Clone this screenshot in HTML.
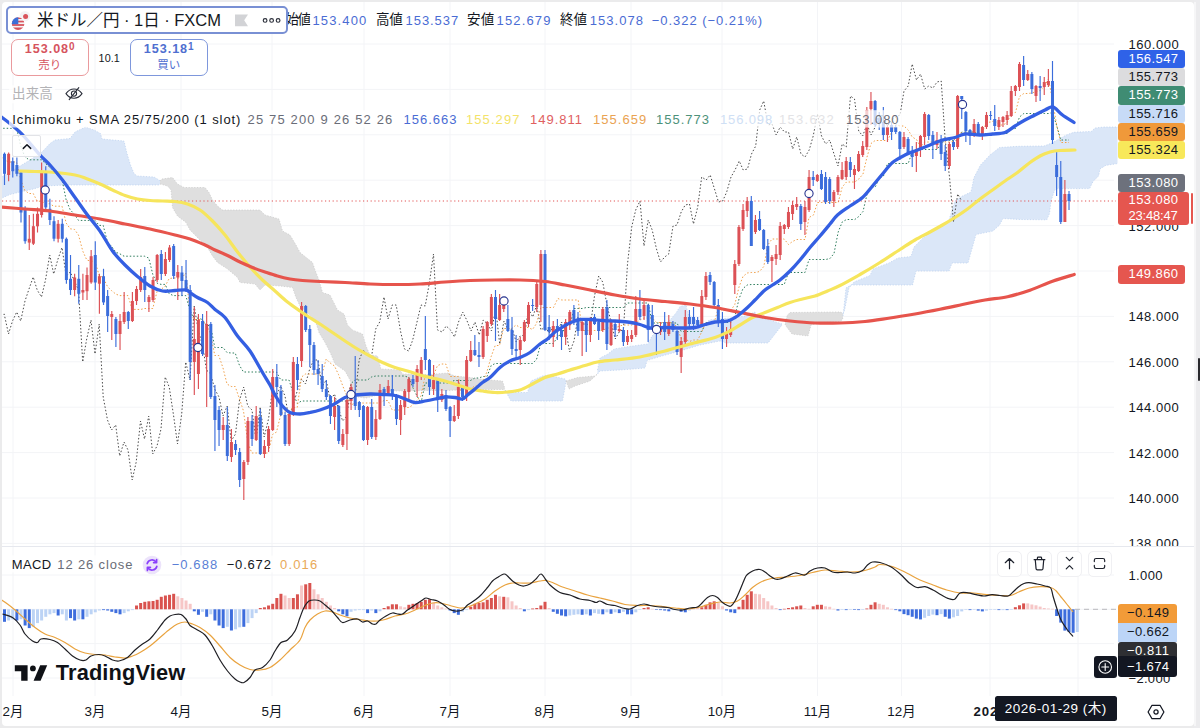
<!DOCTYPE html>
<html lang="ja"><head><meta charset="utf-8"><title>USDJPY chart</title><style>
html,body{margin:0;padding:0}
body{width:1200px;height:728px;overflow:hidden;background:#ebebec;font-family:"Liberation Sans","Noto Sans CJK JP",sans-serif;position:relative}
.panel{position:absolute;left:2px;top:2px;width:1192px;height:724px;background:#fff;border-radius:4px}
.rstrip{position:absolute;left:1194px;top:0;width:6px;height:728px;background:#ececee}
.rstrip2{position:absolute;left:1194px;top:2px;width:1.5px;height:724px;background:#f6f6f7}
.handle{position:absolute;left:1198.2px;top:357.5px;width:2px;height:23px;background:#2a2a2e;border-radius:1px}
svg.chart{position:absolute;left:0;top:0}
.t{position:absolute;white-space:nowrap;line-height:1;transform:translateY(-50%)}
.t.c{transform:translate(-50%,-50%)}
.pl{position:absolute;box-sizing:border-box;padding-left:10.2px;white-space:nowrap;overflow:hidden}
.sep{position:absolute;left:2px;top:546px;width:1192px;height:1px;background:#e6e8ee}
.symbox{position:absolute;left:6px;top:6.2px;width:282px;height:28.3px;border:2px solid #7990d4;border-radius:5px;background:#fff;box-sizing:border-box}
.btn{position:absolute;top:39px;height:36.5px;box-sizing:border-box;border-radius:7px;background:#fff;text-align:center}
.btn .p{position:absolute;left:0;right:0;top:3.2px;font-size:12.6px;font-weight:700;line-height:13px;letter-spacing:0.95px}
.btn .p sup{font-size:10px;line-height:0;vertical-align:3.2px;font-weight:700;letter-spacing:0}
.btn .l{position:absolute;left:0;right:0;top:18.6px;font-size:11.5px;line-height:12px}
.sell{left:11px;width:77.5px;border:1.7px solid #ea9a9d;color:#d6545e}
.buy{left:130px;width:77.5px;border:1.7px solid #7e97dc;color:#4f6fd0}
.collapse{position:absolute;left:11.5px;top:135px;width:29.5px;height:21.5px;box-sizing:border-box;border:1px solid #e2e3e7;border-radius:2px;background:rgba(255,255,255,0.82)}
.pbtn{position:absolute;top:551px;width:24.5px;height:25.5px;box-sizing:border-box;border:1px solid #f0f0f3;border-radius:5px;background:#fff}
.datelab{position:absolute;left:995px;top:695.7px;width:121.5px;height:25.7px;background:#131722;border-radius:2.5px;color:#fff;font-size:13.5px;line-height:26px;text-align:center;white-space:nowrap}
.plus{position:absolute;left:1094.4px;top:655.7px;width:22.4px;height:22.3px;background:#131722;border-radius:3px}
</style></head>
<body>
<div class="panel"></div>
<div class="rstrip"></div><div class="rstrip2"></div><div class="handle"></div>
<svg class="chart" width="1200" height="728" viewBox="0 0 1200 728">
<defs><clipPath id="mainclip"><rect x="2" y="2" width="1115.5" height="544"/></clipPath><clipPath id="macdclip"><rect x="2" y="547" width="1114" height="147"/></clipPath></defs>
<line x1="2" x2="1114" y1="44.0" y2="44.0" stroke="#f3f4f7" stroke-width="1"/>
<line x1="2" x2="1114" y1="89.4" y2="89.4" stroke="#f3f4f7" stroke-width="1"/>
<line x1="2" x2="1114" y1="134.8" y2="134.8" stroke="#f3f4f7" stroke-width="1"/>
<line x1="2" x2="1114" y1="180.2" y2="180.2" stroke="#f3f4f7" stroke-width="1"/>
<line x1="2" x2="1114" y1="225.6" y2="225.6" stroke="#f3f4f7" stroke-width="1"/>
<line x1="2" x2="1114" y1="271.0" y2="271.0" stroke="#f3f4f7" stroke-width="1"/>
<line x1="2" x2="1114" y1="316.4" y2="316.4" stroke="#f3f4f7" stroke-width="1"/>
<line x1="2" x2="1114" y1="361.8" y2="361.8" stroke="#f3f4f7" stroke-width="1"/>
<line x1="2" x2="1114" y1="407.2" y2="407.2" stroke="#f3f4f7" stroke-width="1"/>
<line x1="2" x2="1114" y1="452.6" y2="452.6" stroke="#f3f4f7" stroke-width="1"/>
<line x1="2" x2="1114" y1="498.0" y2="498.0" stroke="#f3f4f7" stroke-width="1"/>
<line x1="2" x2="1114" y1="543.4" y2="543.4" stroke="#f3f4f7" stroke-width="1"/>
<line x1="13" x2="13" y1="2" y2="696" stroke="#f3f4f7" stroke-width="1"/>
<line x1="95" x2="95" y1="2" y2="696" stroke="#f3f4f7" stroke-width="1"/>
<line x1="181" x2="181" y1="2" y2="696" stroke="#f3f4f7" stroke-width="1"/>
<line x1="272" x2="272" y1="2" y2="696" stroke="#f3f4f7" stroke-width="1"/>
<line x1="364" x2="364" y1="2" y2="696" stroke="#f3f4f7" stroke-width="1"/>
<line x1="450" x2="450" y1="2" y2="696" stroke="#f3f4f7" stroke-width="1"/>
<line x1="545" x2="545" y1="2" y2="696" stroke="#f3f4f7" stroke-width="1"/>
<line x1="631" x2="631" y1="2" y2="696" stroke="#f3f4f7" stroke-width="1"/>
<line x1="722" x2="722" y1="2" y2="696" stroke="#f3f4f7" stroke-width="1"/>
<line x1="817.5" x2="817.5" y1="2" y2="696" stroke="#f3f4f7" stroke-width="1"/>
<line x1="901.5" x2="901.5" y1="2" y2="696" stroke="#f3f4f7" stroke-width="1"/>
<line x1="990" x2="990" y1="2" y2="696" stroke="#f3f4f7" stroke-width="1"/>
<line x1="1078" x2="1078" y1="2" y2="696" stroke="#f3f4f7" stroke-width="1"/>
<line x1="2" x2="1114" y1="575" y2="575" stroke="#f3f4f7" stroke-width="1"/>
<line x1="2" x2="1114" y1="609.3" y2="609.3" stroke="#f3f4f7" stroke-width="1"/>
<line x1="2" x2="1114" y1="643.6" y2="643.6" stroke="#f3f4f7" stroke-width="1"/>
<line x1="2" x2="1114" y1="678" y2="678" stroke="#f3f4f7" stroke-width="1"/>
<g clip-path="url(#mainclip)">
<path d="M0.0,178.0 L10.0,172.0 L20.0,166.0 L30.0,160.0 L42.0,152.0 L50.0,143.5 L55.0,140.0 L70.0,138.5 L75.0,132.0 L85.5,127.0 L94.0,130.0 L100.5,133.5 L102.0,139.0 L124.0,141.0 L127.0,153.5 L130.5,165.0 L134.0,173.5 L137.0,176.0 L154.0,177.0 L159.0,180.0 L160.0,181.0 L160.0,184.0 L159.0,185.0 L67.0,185.0 L43.5,186.0 L33.5,189.0 L20.0,192.0 L10.0,194.5 L0.0,199.0Z" fill="#dbe7f8" stroke="none"/>
<path d="M0.0,178.0 L10.0,172.0 L20.0,166.0 L30.0,160.0 L42.0,152.0 L50.0,143.5 L55.0,140.0 L70.0,138.5 L75.0,132.0 L85.5,127.0 L94.0,130.0 L100.5,133.5 L102.0,139.0 L124.0,141.0 L127.0,153.5 L130.5,165.0 L134.0,173.5 L137.0,176.0 L154.0,177.0 L159.0,180.0 L160.0,181.0" fill="none" stroke="#b9cfee" stroke-width="0.8" stroke-dasharray="1.2,1.6" opacity="0.9"/>
<path d="M0.0,199.0 L10.0,194.5 L20.0,192.0 L33.5,189.0 L43.5,186.0 L67.0,185.0 L159.0,185.0 L160.0,184.0" fill="none" stroke="#b9cfee" stroke-width="0.8" stroke-dasharray="1.2,1.6" opacity="0.9"/>
<path d="M160.0,181.0 L162.0,179.0 L172.5,177.5 L177.5,184.0 L184.0,187.5 L205.0,187.5 L209.0,192.5 L212.5,200.0 L217.5,206.0 L222.5,210.0 L260.0,210.0 L265.0,215.0 L279.0,219.0 L282.5,231.0 L290.0,235.0 L296.0,245.0 L300.0,252.5 L312.5,262.5 L315.0,270.0 L319.0,280.0 L322.5,292.5 L330.0,295.0 L337.5,310.0 L344.0,314.0 L347.5,325.0 L352.5,330.0 L362.5,334.0 L366.0,346.0 L370.0,355.0 L377.5,356.0 L381.0,369.0 L400.0,370.0 L402.5,374.0 L430.0,374.5 L447.5,373.0 L455.0,376.0 L470.0,377.5 L480.0,379.0 L490.0,380.0 L502.5,381.0 L505.0,389.0 L505.0,389.5 L490.0,389.5 L470.0,389.5 L460.0,390.0 L445.0,390.5 L430.0,390.5 L390.0,391.0 L382.0,393.0 L374.0,396.0 L366.0,398.0 L358.0,397.0 L352.5,393.0 L350.0,380.0 L345.0,371.0 L335.0,364.0 L330.0,352.0 L325.0,342.5 L319.0,332.5 L315.0,320.0 L300.0,306.0 L296.0,297.5 L292.5,287.5 L280.0,286.0 L265.0,285.0 L260.0,290.0 L255.0,284.0 L240.0,282.5 L237.5,277.5 L227.5,269.0 L217.5,262.5 L212.5,256.0 L207.5,247.5 L202.5,242.5 L190.0,230.0 L186.0,222.5 L177.5,216.0 L172.5,207.5 L171.0,190.0 L167.5,186.0 L160.0,184.0Z" fill="#dfdfdf" stroke="none"/>
<path d="M160.0,181.0 L162.0,179.0 L172.5,177.5 L177.5,184.0 L184.0,187.5 L205.0,187.5 L209.0,192.5 L212.5,200.0 L217.5,206.0 L222.5,210.0 L260.0,210.0 L265.0,215.0 L279.0,219.0 L282.5,231.0 L290.0,235.0 L296.0,245.0 L300.0,252.5 L312.5,262.5 L315.0,270.0 L319.0,280.0 L322.5,292.5 L330.0,295.0 L337.5,310.0 L344.0,314.0 L347.5,325.0 L352.5,330.0 L362.5,334.0 L366.0,346.0 L370.0,355.0 L377.5,356.0 L381.0,369.0 L400.0,370.0 L402.5,374.0 L430.0,374.5 L447.5,373.0 L455.0,376.0 L470.0,377.5 L480.0,379.0 L490.0,380.0 L502.5,381.0 L505.0,389.0" fill="none" stroke="#c9c9c9" stroke-width="0.8" stroke-dasharray="1.2,1.6" opacity="0.9"/>
<path d="M160.0,184.0 L167.5,186.0 L171.0,190.0 L172.5,207.5 L177.5,216.0 L186.0,222.5 L190.0,230.0 L202.5,242.5 L207.5,247.5 L212.5,256.0 L217.5,262.5 L227.5,269.0 L237.5,277.5 L240.0,282.5 L255.0,284.0 L260.0,290.0 L265.0,285.0 L280.0,286.0 L292.5,287.5 L296.0,297.5 L300.0,306.0 L315.0,320.0 L319.0,332.5 L325.0,342.5 L330.0,352.0 L335.0,364.0 L345.0,371.0 L350.0,380.0 L352.5,393.0 L358.0,397.0 L366.0,398.0 L374.0,396.0 L382.0,393.0 L390.0,391.0 L430.0,390.5 L445.0,390.5 L460.0,390.0 L470.0,389.5 L490.0,389.5 L505.0,389.5" fill="none" stroke="#c9c9c9" stroke-width="0.8" stroke-dasharray="1.2,1.6" opacity="0.9"/>
<path d="M505.0,390.0 L507.5,392.5 L527.5,392.5 L531.0,381.0 L542.5,376.0 L547.5,375.0 L565.0,379.0 L566.0,381.0 L566.0,381.0 L565.0,387.5 L562.5,401.0 L511.0,401.0 L505.0,390.0Z" fill="#dbe7f8" stroke="none"/>
<path d="M505.0,390.0 L507.5,392.5 L527.5,392.5 L531.0,381.0 L542.5,376.0 L547.5,375.0 L565.0,379.0 L566.0,381.0" fill="none" stroke="#b9cfee" stroke-width="0.8" stroke-dasharray="1.2,1.6" opacity="0.9"/>
<path d="M505.0,390.0 L511.0,401.0 L562.5,401.0 L565.0,387.5 L566.0,381.0" fill="none" stroke="#b9cfee" stroke-width="0.8" stroke-dasharray="1.2,1.6" opacity="0.9"/>
<path d="M566.0,381.0 L577.5,377.5 L595.0,376.0 L597.5,374.0 L597.5,374.0 L590.0,381.0 L575.0,386.0 L569.0,389.0 L566.0,381.0Z" fill="#dfdfdf" stroke="none"/>
<path d="M566.0,381.0 L577.5,377.5 L595.0,376.0 L597.5,374.0" fill="none" stroke="#c9c9c9" stroke-width="0.8" stroke-dasharray="1.2,1.6" opacity="0.9"/>
<path d="M566.0,381.0 L569.0,389.0 L575.0,386.0 L590.0,381.0 L597.5,374.0" fill="none" stroke="#c9c9c9" stroke-width="0.8" stroke-dasharray="1.2,1.6" opacity="0.9"/>
<path d="M597.5,370.0 L600.0,358.0 L608.0,354.0 L614.0,349.0 L626.0,347.0 L640.0,345.0 L648.0,344.0 L652.0,336.0 L660.0,328.0 L670.0,320.0 L676.0,313.0 L680.0,306.5 L686.0,305.0 L688.0,314.0 L698.0,321.5 L706.0,324.5 L709.0,320.0 L718.0,319.0 L730.0,318.0 L746.0,316.0 L755.0,312.0 L757.0,317.0 L770.0,320.0 L782.0,324.0 L782.0,325.0 L772.0,338.0 L768.0,343.0 L726.0,343.0 L720.0,341.0 L700.0,345.0 L680.0,351.0 L660.0,356.5 L647.0,360.5 L645.0,368.0 L620.0,370.0 L600.0,371.0 L597.5,374.0Z" fill="#dbe7f8" stroke="none"/>
<path d="M597.5,370.0 L600.0,358.0 L608.0,354.0 L614.0,349.0 L626.0,347.0 L640.0,345.0 L648.0,344.0 L652.0,336.0 L660.0,328.0 L670.0,320.0 L676.0,313.0 L680.0,306.5 L686.0,305.0 L688.0,314.0 L698.0,321.5 L706.0,324.5 L709.0,320.0 L718.0,319.0 L730.0,318.0 L746.0,316.0 L755.0,312.0 L757.0,317.0 L770.0,320.0 L782.0,324.0" fill="none" stroke="#b9cfee" stroke-width="0.8" stroke-dasharray="1.2,1.6" opacity="0.9"/>
<path d="M597.5,374.0 L600.0,371.0 L620.0,370.0 L645.0,368.0 L647.0,360.5 L660.0,356.5 L680.0,351.0 L700.0,345.0 L720.0,341.0 L726.0,343.0 L768.0,343.0 L772.0,338.0 L782.0,325.0" fill="none" stroke="#b9cfee" stroke-width="0.8" stroke-dasharray="1.2,1.6" opacity="0.9"/>
<path d="M785.0,322.0 L787.5,315.0 L790.0,312.5 L841.0,312.0 L843.0,314.0 L843.0,318.0 L841.0,321.5 L822.0,322.5 L811.0,325.0 L808.0,336.0 L792.0,334.0 L786.0,326.0 L785.0,324.0Z" fill="#dfdfdf" stroke="none"/>
<path d="M785.0,322.0 L787.5,315.0 L790.0,312.5 L841.0,312.0 L843.0,314.0" fill="none" stroke="#c9c9c9" stroke-width="0.8" stroke-dasharray="1.2,1.6" opacity="0.9"/>
<path d="M785.0,324.0 L786.0,326.0 L792.0,334.0 L808.0,336.0 L811.0,325.0 L822.0,322.5 L841.0,321.5 L843.0,318.0" fill="none" stroke="#c9c9c9" stroke-width="0.8" stroke-dasharray="1.2,1.6" opacity="0.9"/>
<path d="M843.0,314.0 L844.5,310.5 L849.0,288.0 L854.0,282.0 L870.0,275.5 L873.0,269.0 L889.0,263.0 L898.0,258.0 L911.0,256.5 L914.0,247.0 L923.5,237.5 L942.5,225.0 L949.0,220.0 L955.0,201.0 L961.5,196.5 L971.0,192.0 L974.0,177.5 L980.5,165.0 L990.0,155.0 L999.5,147.5 L1018.5,146.3 L1044.0,146.0 L1052.0,143.0 L1059.0,139.0 L1066.4,135.0 L1073.6,132.3 L1091.4,131.4 L1095.0,128.0 L1104.0,127.0 L1118.0,127.0 L1118.0,163.5 L1105.7,165.4 L1100.0,169.0 L1098.6,176.0 L1093.0,181.4 L1089.6,188.6 L1055.7,188.6 L1054.0,192.0 L1051.0,201.0 L1049.5,213.6 L1046.8,219.8 L1020.0,219.5 L1003.0,218.5 L999.5,225.0 L993.0,231.0 L976.0,234.5 L968.0,263.0 L952.0,263.0 L949.0,271.0 L916.0,271.0 L912.5,285.0 L851.0,285.0 L846.0,288.0 L843.0,316.0Z" fill="#dbe7f8" stroke="none"/>
<path d="M843.0,314.0 L844.5,310.5 L849.0,288.0 L854.0,282.0 L870.0,275.5 L873.0,269.0 L889.0,263.0 L898.0,258.0 L911.0,256.5 L914.0,247.0 L923.5,237.5 L942.5,225.0 L949.0,220.0 L955.0,201.0 L961.5,196.5 L971.0,192.0 L974.0,177.5 L980.5,165.0 L990.0,155.0 L999.5,147.5 L1018.5,146.3 L1044.0,146.0 L1052.0,143.0 L1059.0,139.0 L1066.4,135.0 L1073.6,132.3 L1091.4,131.4 L1095.0,128.0 L1104.0,127.0 L1118.0,127.0" fill="none" stroke="#b9cfee" stroke-width="0.8" stroke-dasharray="1.2,1.6" opacity="0.9"/>
<path d="M843.0,316.0 L846.0,288.0 L851.0,285.0 L912.5,285.0 L916.0,271.0 L949.0,271.0 L952.0,263.0 L968.0,263.0 L976.0,234.5 L993.0,231.0 L999.5,225.0 L1003.0,218.5 L1020.0,219.5 L1046.8,219.8 L1049.5,213.6 L1051.0,201.0 L1054.0,192.0 L1055.7,188.6 L1089.6,188.6 L1093.0,181.4 L1098.6,176.0 L1100.0,169.0 L1105.7,165.4 L1118.0,163.5" fill="none" stroke="#b9cfee" stroke-width="0.8" stroke-dasharray="1.2,1.6" opacity="0.9"/>
<path d="M-102.8,173.8 L-98.8,153.8 L-94.8,171.2 L-90.8,173.8 L-86.5,212.5 L-82.5,241.2 L-78.3,238.8 L-74.0,226.2 L-70.0,213.8 L-65.8,171.2 L-61.8,207.5 L-57.5,220.0 L-53.5,238.8 L-49.3,223.8 L-45.3,238.8 L-41.0,280.0 L-37.0,290.0 L-32.8,277.5 L-28.8,293.8 L-24.5,290.0 L-20.5,275.0 L-16.3,256.2 L-12.3,282.5 L-8.0,276.2 L-4.0,302.5 L0.2,316.0 L4.2,314.0 L8.5,334.0 L12.5,321.0 L16.7,312.0 L20.7,321.0 L25.0,301.0 L29.0,289.0 L33.2,277.0 L37.2,290.0 L41.5,297.0 L45.5,280.0 L49.7,255.0 L53.7,274.0 L58.0,259.0 L62.0,247.5 L66.2,276.0 L70.2,272.0 L74.5,281.0 L78.5,290.0 L82.7,362.0 L86.7,339.0 L91.0,320.0 L95.0,354.0 L99.2,324.0 L103.2,397.0 L107.5,420.0 L111.5,430.0 L115.7,425.0 L119.7,456.0 L124.0,442.0 L128.0,450.0 L132.2,480.0 L136.2,462.0 L140.5,421.0 L144.5,439.0 L148.7,416.0 L152.7,454.0 L157.0,446.0 L161.0,429.0 L165.2,377.0 L169.2,387.0 L173.5,415.0 L177.5,444.0 L181.7,414.0 L185.7,362.0 L190.0,380.0 L194.2,306.0 L198.2,330.0 L202.5,345.0 L206.5,370.0 L210.7,374.0 L214.7,389.0 L219.0,397.0 L223.0,416.0 L227.2,406.0 L231.2,441.0 L235.5,434.0 L239.5,400.0 L243.7,387.0 L247.7,406.0 L252.0,410.0 L256.0,440.0 L260.2,407.0 L264.2,437.0 L268.5,419.0 L272.5,390.0 L276.7,395.0 L280.7,386.0 L285.0,396.0 L289.0,419.0 L293.2,405.0 L297.2,391.0 L301.5,379.0 L305.5,384.0 L309.7,369.0 L313.7,360.0 L318.0,360.0 L322.0,387.0 L326.2,380.0 L330.2,400.0 L334.5,394.0 L338.5,409.0 L342.7,421.0 L346.7,416.0 L351.0,387.0 L355.0,397.0 L359.2,360.0 L363.2,350.0 L367.5,355.0 L371.5,357.0 L375.7,329.0 L379.7,322.0 L384.0,297.0 L388.0,319.0 L392.2,305.0 L396.2,305.0 L400.5,331.0 L404.5,349.0 L408.7,351.0 L412.7,340.0 L417.0,322.0 L421.0,305.0 L425.2,306.0 L429.2,284.0 L433.5,254.0 L437.5,330.0 L442.2,332.0 L446.2,326.0 L450.5,330.0 L454.5,337.0 L458.5,322.0 L462.7,312.0 L466.7,320.0 L471.0,331.0 L475.0,322.0 L479.2,335.0 L483.2,320.0 L487.5,324.0 L491.5,331.0 L495.7,309.0 L499.7,344.0 L504.0,321.0 L508.0,330.0 L512.2,329.0 L516.2,342.0 L520.2,336.0 L524.5,335.0 L528.5,309.0 L532.7,317.0 L536.7,305.0 L541.0,330.0 L545.0,327.0 L549.2,333.0 L553.2,327.0 L557.5,332.0 L561.5,322.0 L565.7,330.0 L569.7,352.0 L574.0,341.0 L578.0,317.0 L582.2,324.0 L586.2,324.0 L590.5,325.0 L594.5,296.0 L598.7,276.0 L602.7,282.0 L607.0,305.0 L611.0,322.0 L615.2,339.0 L619.2,332.0 L623.5,329.0 L627.5,264.0 L631.7,227.0 L635.7,210.0 L640.0,201.0 L644.0,246.0 L648.2,220.0 L652.2,230.0 L656.5,249.0 L660.5,262.0 L664.7,257.0 L668.7,254.0 L673.0,226.0 L677.0,225.0 L681.2,212.0 L685.2,205.0 L689.5,204.0 L693.5,224.0 L697.7,207.0 L701.7,177.0 L706.2,180.0 L710.2,175.0 L714.5,189.0 L718.5,202.0 L722.7,201.0 L726.7,192.0 L731.0,177.0 L735.0,170.0 L739.2,161.0 L743.2,170.0 L747.5,169.0 L751.5,154.0 L755.7,146.0 L759.7,110.0 L763.7,101.0 L768.0,125.0 L772.0,124.0 L776.2,135.0 L780.2,127.0 L784.5,132.0 L788.5,132.0 L792.7,149.0 L796.7,137.0 L801.0,154.0 L805.0,157.0 L809.2,150.0 L813.2,136.0 L817.5,114.0 L821.5,136.0 L825.7,144.0 L829.7,140.0 L834.0,154.0 L838.0,166.0 L842.2,144.0 L846.2,147.0 L850.5,96.0 L854.5,99.0 L858.7,131.0 L862.7,136.0 L867.0,124.0 L871.0,135.0 L875.2,127.0 L879.2,115.0 L883.5,116.0 L887.5,126.0 L891.7,120.0 L895.7,117.0 L900.0,115.0 L904.0,91.0 L908.2,86.0 L912.2,64.0 L916.5,80.0 L920.5,74.0 L924.7,89.0 L928.7,86.0 L933.0,88.0 L937.0,82.0 L941.2,81.0 L945.2,140.0 L949.5,177.0 L953.5,222.0 L957.7,194.0 L961.7,201.0" fill="none" stroke="#4a4a4a" stroke-width="1" stroke-dasharray="1.5,2" />
<path d="M-3.8,128.3 L0.4,128.3 L4.5,128.3 L8.5,128.3 L12.5,128.3 L16.5,128.3 L20.8,146.1 L24.8,156.7 L29.0,159.8 L33.2,159.8 L37.2,159.8 L41.5,159.8 L45.5,163.5 L49.8,167.4 L53.8,171.4 L58.0,175.4 L62.0,179.3 L66.2,200.2 L70.2,209.8 L74.5,214.4 L78.5,220.4 L82.8,220.4 L86.8,220.4 L91.0,220.4 L95.0,220.4 L99.2,225.4 L103.2,225.4 L107.5,242.2 L111.5,246.2 L115.8,252.2 L119.8,253.8 L124.0,256.2 L128.0,256.2 L132.2,256.2 L136.2,256.2 L140.5,256.2 L144.5,256.2 L148.8,258.1 L152.8,274.4 L157.0,283.1 L161.0,284.4 L165.2,284.4 L169.2,293.8 L173.5,295.6 L177.5,295.6 L181.8,295.6 L185.8,295.6 L190.0,310.6 L194.0,318.1 L198.2,318.1 L202.2,319.5 L206.5,325.5 L210.5,325.5 L214.8,347.5 L218.8,347.5 L223.0,347.5 L227.0,352.5 L231.2,353.0 L235.2,353.0 L239.5,365.5 L243.5,372.0 L247.8,372.0 L251.8,372.0 L256.0,372.0 L260.0,372.0 L264.2,372.0 L268.2,372.0 L272.5,372.0 L276.5,372.0 L280.8,380.0 L284.8,380.0 L289.0,380.0 L293.0,392.5 L297.2,403.5 L301.5,401.0 L305.5,401.0 L309.8,401.0 L313.8,401.0 L318.0,401.0 L322.0,401.0 L326.2,401.0 L330.2,401.0 L334.5,401.0 L338.5,401.0 L342.8,401.0 L346.8,401.0 L351.0,383.5 L355.0,380.0 L359.2,380.0 L363.2,380.0 L367.5,380.0 L371.5,377.0 L375.8,376.0 L379.8,376.0 L384.0,376.0 L388.0,376.0 L392.2,376.0 L396.2,376.0 L400.5,376.0 L404.5,376.0 L408.8,377.5 L412.8,387.5 L417.0,396.0 L421.0,403.0 L425.2,383.0 L429.2,383.0 L433.5,383.0 L437.5,383.0 L441.8,383.0 L445.8,383.0 L450.0,383.0 L454.0,380.5 L458.2,380.5 L462.2,380.5 L466.5,380.5 L470.5,380.5 L474.8,378.0 L478.8,378.0 L483.0,376.5 L487.0,376.5 L491.2,365.5 L495.2,363.5 L499.5,363.5 L503.5,363.5 L507.8,363.5 L511.8,363.5 L516.0,363.5 L520.0,363.5 L524.2,363.5 L528.2,363.5 L532.5,363.5 L536.5,359.5 L540.8,343.5 L544.8,343.5 L549.5,343.5 L553.5,343.5 L557.8,336.0 L561.8,334.5 L565.8,325.5 L570.0,325.5 L574.0,308.5 L578.2,308.5 L582.2,308.5 L586.5,307.5 L590.5,307.5 L594.8,307.5 L598.8,307.5 L603.0,307.5 L607.0,307.5 L611.2,307.5 L615.2,307.5 L619.5,307.5 L623.5,307.5 L627.5,303.0 L631.8,303.0 L635.8,303.0 L640.0,303.0 L644.0,303.0 L648.2,303.0 L652.2,323.0 L656.5,323.0 L660.5,323.0 L664.8,323.0 L668.8,323.0 L673.0,323.0 L677.0,323.0 L681.2,331.5 L685.2,331.5 L689.5,331.5 L693.5,331.5 L697.8,331.5 L701.8,331.5 L706.0,322.5 L710.0,322.5 L714.2,322.5 L718.2,322.5 L722.5,322.5 L726.5,322.5 L730.8,322.5 L734.8,316.5 L739.0,299.0 L743.0,288.5 L747.2,285.0 L751.2,284.5 L755.5,284.5 L759.5,284.5 L763.8,284.5 L767.8,284.5 L772.0,284.5 L776.0,284.5 L780.2,284.5 L784.2,284.5 L788.5,272.5 L792.5,272.5 L796.8,272.5 L800.8,272.5 L805.0,272.5 L809.0,259.5 L813.5,259.5 L817.5,259.5 L821.8,259.5 L825.8,259.5 L830.0,258.5 L834.0,253.5 L838.2,232.0 L842.2,222.0 L846.5,219.5 L850.5,219.5 L854.8,219.5 L858.8,216.5 L863.0,211.5 L867.0,194.5 L871.0,187.0 L875.2,187.0 L879.2,178.5 L883.5,176.0 L887.5,163.5 L891.8,163.5 L895.8,163.5 L900.0,163.5 L904.0,163.5 L908.2,163.5 L912.2,152.0 L916.5,149.5 L920.5,149.5 L924.8,149.5 L928.8,149.5 L933.0,149.5 L937.0,149.5 L941.2,143.5 L945.2,140.5 L949.5,140.5 L953.5,140.5 L957.8,140.5 L961.8,132.0 L966.0,132.0 L970.0,132.0 L974.2,132.0 L978.2,133.5 L982.5,133.5 L986.5,133.5 L990.8,133.5 L994.8,133.5 L999.0,133.5 L1003.0,133.5 L1007.2,133.5 L1011.2,129.0 L1015.5,128.5 L1019.5,117.0 L1023.8,113.5 L1027.8,113.5 L1032.0,113.5 L1036.0,113.5 L1040.2,113.5 L1044.2,113.5 L1048.5,113.5 L1052.5,112.5 L1056.8,126.0 L1060.8,140.0 L1065.0,140.0 L1069.0,140.0" fill="none" stroke="#2f7d5d" stroke-width="1" stroke-dasharray="1.5,2"/>
<path d="M-3.8,151.8 L0.4,155.8 L4.5,159.8 L8.5,162.0 L12.5,162.0 L16.5,162.0 L20.8,179.8 L24.8,190.4 L29.0,193.5 L33.2,193.5 L37.2,201.2 L41.5,201.2 L45.5,203.8 L49.8,203.8 L53.8,206.2 L58.0,206.2 L62.0,206.2 L66.2,223.1 L70.2,228.8 L74.5,229.4 L78.5,235.0 L82.8,251.2 L86.8,260.0 L91.0,261.2 L95.0,261.2 L99.2,275.6 L103.2,277.5 L107.5,286.6 L111.5,290.6 L115.8,294.1 L119.8,295.6 L124.0,295.6 L128.0,295.6 L132.2,309.4 L136.2,309.4 L140.5,309.5 L144.5,308.5 L148.8,308.5 L152.8,308.5 L157.0,291.5 L161.0,289.5 L165.2,286.0 L169.2,278.5 L173.5,278.0 L177.5,278.0 L181.8,278.0 L185.8,273.0 L190.0,312.0 L194.0,319.5 L198.2,319.5 L202.2,319.5 L206.5,325.5 L210.5,333.5 L214.8,355.5 L218.8,355.5 L223.0,368.0 L227.0,384.0 L231.2,386.5 L235.2,386.5 L239.5,399.0 L243.5,411.0 L247.8,442.5 L251.8,453.0 L256.0,453.0 L260.0,453.0 L264.2,453.0 L268.2,453.0 L272.5,434.5 L276.5,432.0 L280.8,414.5 L284.8,411.0 L289.0,411.0 L293.0,407.5 L297.2,407.5 L301.5,377.0 L305.5,374.0 L309.8,374.0 L313.8,374.0 L318.0,374.0 L322.0,374.0 L326.2,359.0 L330.2,363.0 L334.5,366.0 L338.5,374.5 L342.8,386.0 L346.8,396.0 L351.0,405.0 L355.0,403.0 L359.2,403.0 L363.2,403.0 L367.5,403.0 L371.5,403.0 L375.8,403.0 L379.8,403.0 L384.0,400.5 L388.0,400.5 L392.2,410.0 L396.2,410.0 L400.5,410.0 L404.5,407.5 L408.8,407.5 L412.8,405.0 L417.0,400.0 L421.0,396.0 L425.2,375.5 L429.2,375.5 L433.5,375.5 L437.5,365.5 L441.8,364.0 L445.8,364.0 L450.0,376.5 L454.0,376.5 L458.2,376.5 L462.2,398.0 L466.5,396.5 L470.5,389.0 L474.8,386.0 L478.8,386.0 L483.0,381.5 L487.0,371.5 L491.2,356.5 L495.2,345.5 L499.5,345.5 L503.5,328.5 L507.8,328.5 L511.8,328.5 L516.0,325.0 L520.0,327.5 L524.2,327.5 L528.2,327.5 L532.5,329.5 L536.5,323.5 L540.8,307.5 L544.8,307.5 L549.5,307.5 L553.5,307.5 L557.8,298.5 L561.8,300.0 L565.8,300.0 L570.0,300.0 L574.0,300.0 L578.2,300.0 L582.2,330.5 L586.5,330.5 L590.5,330.5 L594.8,330.5 L598.8,330.5 L603.0,330.5 L607.0,328.0 L611.2,328.0 L615.2,328.0 L619.5,326.0 L623.5,325.0 L627.5,325.0 L631.8,325.0 L635.8,323.0 L640.0,320.0 L644.0,318.0 L648.2,318.0 L652.2,318.0 L656.5,322.5 L660.5,322.5 L664.8,322.5 L668.8,322.5 L673.0,322.5 L677.0,327.5 L681.2,338.5 L685.2,339.0 L689.5,341.5 L693.5,340.0 L697.8,340.0 L701.8,331.5 L706.0,322.5 L710.0,322.5 L714.2,322.5 L718.2,308.5 L722.5,310.5 L726.5,310.5 L730.8,310.5 L734.8,304.5 L739.0,287.0 L743.0,276.5 L747.2,273.0 L751.2,272.5 L755.5,272.5 L759.5,271.5 L763.8,266.5 L767.8,245.0 L772.0,239.0 L776.0,239.0 L780.2,239.0 L784.2,239.0 L788.5,244.5 L792.5,241.5 L796.8,239.5 L800.8,239.5 L805.0,239.5 L809.0,217.5 L813.5,215.0 L817.5,202.5 L821.8,202.5 L825.8,202.5 L830.0,202.5 L834.0,202.5 L838.2,202.5 L842.2,187.0 L846.5,182.0 L850.5,182.0 L854.8,182.0 L858.8,179.0 L863.0,174.0 L867.0,157.0 L871.0,143.5 L875.2,140.5 L879.2,140.5 L883.5,140.5 L887.5,140.5 L891.8,132.0 L895.8,124.5 L900.0,126.0 L904.0,126.0 L908.2,130.0 L912.2,137.0 L916.5,139.5 L920.5,147.0 L924.8,142.0 L928.8,142.0 L933.0,142.0 L937.0,142.0 L941.2,142.0 L945.2,142.0 L949.5,142.0 L953.5,141.5 L957.8,133.0 L961.8,133.0 L966.0,133.0 L970.0,133.0 L974.2,133.0 L978.2,133.0 L982.5,132.0 L986.5,122.5 L990.8,122.0 L994.8,120.5 L999.0,125.0 L1003.0,125.0 L1007.2,122.5 L1011.2,113.0 L1015.5,112.5 L1019.5,96.5 L1023.8,93.5 L1027.8,93.5 L1032.0,93.0 L1036.0,91.5 L1040.2,90.5 L1044.2,86.5 L1048.5,79.0 L1052.5,100.0 L1056.8,126.0 L1060.8,142.5 L1065.0,142.5 L1069.0,142.5" fill="none" stroke="#f0a04a" stroke-width="1" stroke-dasharray="1.5,2"/>
<line x1="2" x2="1116" y1="201" y2="201" stroke="#e25555" stroke-width="1" stroke-dasharray="1.2,2.6"/>
<line x1="4.50" x2="4.50" y1="152.5" y2="185.0" stroke="#3b6ddb" stroke-width="1.15"/>
<rect x="3.00" y="153.8" width="3" height="20.0" fill="#3b6ddb"/>
<line x1="8.63" x2="8.63" y1="152.5" y2="181.2" stroke="#dc5156" stroke-width="1.15"/>
<rect x="7.13" y="153.8" width="3" height="21.2" fill="#dc5156"/>
<line x1="12.75" x2="12.75" y1="157.5" y2="177.5" stroke="#3b6ddb" stroke-width="1.15"/>
<rect x="11.25" y="161.2" width="3" height="10.0" fill="#3b6ddb"/>
<line x1="16.88" x2="16.88" y1="157.5" y2="176.2" stroke="#3b6ddb" stroke-width="1.15"/>
<rect x="15.38" y="165.0" width="3" height="8.8" fill="#3b6ddb"/>
<line x1="21.00" x2="21.00" y1="171.2" y2="222.5" stroke="#3b6ddb" stroke-width="1.15"/>
<rect x="19.50" y="172.5" width="3" height="40.0" fill="#3b6ddb"/>
<line x1="25.13" x2="25.13" y1="206.2" y2="243.8" stroke="#3b6ddb" stroke-width="1.15"/>
<rect x="23.63" y="210.0" width="3" height="31.2" fill="#3b6ddb"/>
<line x1="29.26" x2="29.26" y1="215.0" y2="250.0" stroke="#dc5156" stroke-width="1.15"/>
<rect x="27.76" y="238.8" width="3" height="3.8" fill="#dc5156"/>
<line x1="33.38" x2="33.38" y1="213.8" y2="245.0" stroke="#dc5156" stroke-width="1.15"/>
<rect x="31.88" y="226.2" width="3" height="17.5" fill="#dc5156"/>
<line x1="37.51" x2="37.51" y1="207.5" y2="232.5" stroke="#dc5156" stroke-width="1.15"/>
<rect x="36.01" y="213.8" width="3" height="12.5" fill="#dc5156"/>
<line x1="41.63" x2="41.63" y1="162.5" y2="217.5" stroke="#dc5156" stroke-width="1.15"/>
<rect x="40.13" y="171.2" width="3" height="43.8" fill="#dc5156"/>
<line x1="45.76" x2="45.76" y1="166.2" y2="210.0" stroke="#3b6ddb" stroke-width="1.15"/>
<rect x="44.26" y="171.2" width="3" height="36.2" fill="#3b6ddb"/>
<line x1="49.89" x2="49.89" y1="198.8" y2="225.0" stroke="#3b6ddb" stroke-width="1.15"/>
<rect x="48.39" y="208.8" width="3" height="11.2" fill="#3b6ddb"/>
<line x1="54.01" x2="54.01" y1="216.2" y2="241.2" stroke="#3b6ddb" stroke-width="1.15"/>
<rect x="52.51" y="221.2" width="3" height="17.5" fill="#3b6ddb"/>
<line x1="58.14" x2="58.14" y1="220.0" y2="242.5" stroke="#dc5156" stroke-width="1.15"/>
<rect x="56.64" y="223.8" width="3" height="15.0" fill="#dc5156"/>
<line x1="62.26" x2="62.26" y1="218.8" y2="242.5" stroke="#3b6ddb" stroke-width="1.15"/>
<rect x="60.76" y="223.8" width="3" height="15.0" fill="#3b6ddb"/>
<line x1="66.39" x2="66.39" y1="237.5" y2="283.8" stroke="#3b6ddb" stroke-width="1.15"/>
<rect x="64.89" y="238.8" width="3" height="41.2" fill="#3b6ddb"/>
<line x1="70.52" x2="70.52" y1="255.0" y2="295.0" stroke="#3b6ddb" stroke-width="1.15"/>
<rect x="69.02" y="278.8" width="3" height="11.2" fill="#3b6ddb"/>
<line x1="74.64" x2="74.64" y1="273.8" y2="296.2" stroke="#dc5156" stroke-width="1.15"/>
<rect x="73.14" y="277.5" width="3" height="12.5" fill="#dc5156"/>
<line x1="78.77" x2="78.77" y1="265.0" y2="303.8" stroke="#3b6ddb" stroke-width="1.15"/>
<rect x="77.27" y="278.8" width="3" height="15.0" fill="#3b6ddb"/>
<line x1="82.89" x2="82.89" y1="273.8" y2="300.0" stroke="#dc5156" stroke-width="1.15"/>
<rect x="81.39" y="290.0" width="3" height="2.5" fill="#dc5156"/>
<line x1="87.02" x2="87.02" y1="267.5" y2="300.0" stroke="#dc5156" stroke-width="1.15"/>
<rect x="85.52" y="275.0" width="3" height="16.2" fill="#dc5156"/>
<line x1="91.15" x2="91.15" y1="250.0" y2="283.8" stroke="#dc5156" stroke-width="1.15"/>
<rect x="89.65" y="256.2" width="3" height="26.2" fill="#dc5156"/>
<line x1="95.27" x2="95.27" y1="241.2" y2="290.0" stroke="#3b6ddb" stroke-width="1.15"/>
<rect x="93.77" y="255.0" width="3" height="27.5" fill="#3b6ddb"/>
<line x1="99.40" x2="99.40" y1="273.8" y2="313.8" stroke="#dc5156" stroke-width="1.15"/>
<rect x="97.90" y="276.2" width="3" height="7.5" fill="#dc5156"/>
<line x1="103.52" x2="103.52" y1="268.8" y2="305.0" stroke="#3b6ddb" stroke-width="1.15"/>
<rect x="102.02" y="276.2" width="3" height="26.2" fill="#3b6ddb"/>
<line x1="107.65" x2="107.65" y1="290.0" y2="332.0" stroke="#3b6ddb" stroke-width="1.15"/>
<rect x="106.15" y="296.0" width="3" height="20.0" fill="#3b6ddb"/>
<line x1="111.78" x2="111.78" y1="311.0" y2="340.0" stroke="#dc5156" stroke-width="1.15"/>
<rect x="110.28" y="314.0" width="3" height="3.0" fill="#dc5156"/>
<line x1="115.90" x2="115.90" y1="317.0" y2="347.0" stroke="#3b6ddb" stroke-width="1.15"/>
<rect x="114.40" y="319.0" width="3" height="15.0" fill="#3b6ddb"/>
<line x1="120.03" x2="120.03" y1="314.0" y2="350.0" stroke="#dc5156" stroke-width="1.15"/>
<rect x="118.53" y="321.0" width="3" height="13.0" fill="#dc5156"/>
<line x1="124.15" x2="124.15" y1="292.0" y2="324.0" stroke="#dc5156" stroke-width="1.15"/>
<rect x="122.65" y="312.0" width="3" height="10.0" fill="#dc5156"/>
<line x1="128.28" x2="128.28" y1="311.0" y2="329.0" stroke="#3b6ddb" stroke-width="1.15"/>
<rect x="126.78" y="312.0" width="3" height="9.0" fill="#3b6ddb"/>
<line x1="132.41" x2="132.41" y1="292.0" y2="322.0" stroke="#dc5156" stroke-width="1.15"/>
<rect x="130.91" y="301.0" width="3" height="20.0" fill="#dc5156"/>
<line x1="136.53" x2="136.53" y1="286.0" y2="305.0" stroke="#dc5156" stroke-width="1.15"/>
<rect x="135.03" y="289.0" width="3" height="12.0" fill="#dc5156"/>
<line x1="140.66" x2="140.66" y1="269.0" y2="292.0" stroke="#dc5156" stroke-width="1.15"/>
<rect x="139.16" y="277.0" width="3" height="13.0" fill="#dc5156"/>
<line x1="144.78" x2="144.78" y1="267.0" y2="302.0" stroke="#3b6ddb" stroke-width="1.15"/>
<rect x="143.28" y="276.0" width="3" height="14.0" fill="#3b6ddb"/>
<line x1="148.91" x2="148.91" y1="295.0" y2="312.0" stroke="#dc5156" stroke-width="1.15"/>
<rect x="147.41" y="297.0" width="3" height="5.0" fill="#dc5156"/>
<line x1="153.04" x2="153.04" y1="277.0" y2="302.0" stroke="#dc5156" stroke-width="1.15"/>
<rect x="151.54" y="280.0" width="3" height="20.0" fill="#dc5156"/>
<line x1="157.16" x2="157.16" y1="254.0" y2="282.0" stroke="#dc5156" stroke-width="1.15"/>
<rect x="155.66" y="255.0" width="3" height="25.0" fill="#dc5156"/>
<line x1="161.29" x2="161.29" y1="250.0" y2="280.0" stroke="#3b6ddb" stroke-width="1.15"/>
<rect x="159.79" y="254.0" width="3" height="20.0" fill="#3b6ddb"/>
<line x1="165.41" x2="165.41" y1="252.0" y2="276.0" stroke="#dc5156" stroke-width="1.15"/>
<rect x="163.91" y="259.0" width="3" height="15.0" fill="#dc5156"/>
<line x1="169.54" x2="169.54" y1="245.0" y2="262.0" stroke="#dc5156" stroke-width="1.15"/>
<rect x="168.04" y="247.5" width="3" height="12.5" fill="#dc5156"/>
<line x1="173.67" x2="173.67" y1="244.0" y2="279.0" stroke="#3b6ddb" stroke-width="1.15"/>
<rect x="172.17" y="246.0" width="3" height="30.0" fill="#3b6ddb"/>
<line x1="177.79" x2="177.79" y1="265.0" y2="300.0" stroke="#dc5156" stroke-width="1.15"/>
<rect x="176.29" y="272.0" width="3" height="5.5" fill="#dc5156"/>
<line x1="181.92" x2="181.92" y1="266.0" y2="296.0" stroke="#3b6ddb" stroke-width="1.15"/>
<rect x="180.42" y="272.5" width="3" height="8.5" fill="#3b6ddb"/>
<line x1="186.04" x2="186.04" y1="260.0" y2="292.0" stroke="#3b6ddb" stroke-width="1.15"/>
<rect x="184.54" y="280.0" width="3" height="10.0" fill="#3b6ddb"/>
<line x1="190.17" x2="190.17" y1="285.0" y2="380.0" stroke="#3b6ddb" stroke-width="1.15"/>
<rect x="188.67" y="290.0" width="3" height="72.0" fill="#3b6ddb"/>
<line x1="194.30" x2="194.30" y1="307.0" y2="395.0" stroke="#dc5156" stroke-width="1.15"/>
<rect x="192.80" y="339.0" width="3" height="23.0" fill="#dc5156"/>
<line x1="198.42" x2="198.42" y1="314.0" y2="389.0" stroke="#dc5156" stroke-width="1.15"/>
<rect x="196.92" y="320.0" width="3" height="54.0" fill="#dc5156"/>
<line x1="202.55" x2="202.55" y1="314.0" y2="356.0" stroke="#3b6ddb" stroke-width="1.15"/>
<rect x="201.05" y="321.0" width="3" height="33.0" fill="#3b6ddb"/>
<line x1="206.67" x2="206.67" y1="311.0" y2="407.0" stroke="#dc5156" stroke-width="1.15"/>
<rect x="205.17" y="324.0" width="3" height="33.0" fill="#dc5156"/>
<line x1="210.80" x2="210.80" y1="322.0" y2="399.0" stroke="#3b6ddb" stroke-width="1.15"/>
<rect x="209.30" y="324.0" width="3" height="73.0" fill="#3b6ddb"/>
<line x1="214.93" x2="214.93" y1="385.0" y2="451.0" stroke="#3b6ddb" stroke-width="1.15"/>
<rect x="213.43" y="396.0" width="3" height="24.0" fill="#3b6ddb"/>
<line x1="219.05" x2="219.05" y1="406.0" y2="446.0" stroke="#3b6ddb" stroke-width="1.15"/>
<rect x="217.55" y="410.0" width="3" height="20.0" fill="#3b6ddb"/>
<line x1="223.18" x2="223.18" y1="417.0" y2="440.0" stroke="#dc5156" stroke-width="1.15"/>
<rect x="221.68" y="425.0" width="3" height="5.0" fill="#dc5156"/>
<line x1="227.30" x2="227.30" y1="407.0" y2="461.0" stroke="#3b6ddb" stroke-width="1.15"/>
<rect x="225.80" y="425.0" width="3" height="31.0" fill="#3b6ddb"/>
<line x1="231.43" x2="231.43" y1="429.0" y2="462.0" stroke="#dc5156" stroke-width="1.15"/>
<rect x="229.93" y="442.0" width="3" height="15.0" fill="#dc5156"/>
<line x1="235.56" x2="235.56" y1="440.0" y2="455.0" stroke="#3b6ddb" stroke-width="1.15"/>
<rect x="234.06" y="444.0" width="3" height="6.0" fill="#3b6ddb"/>
<line x1="239.68" x2="239.68" y1="448.0" y2="487.0" stroke="#3b6ddb" stroke-width="1.15"/>
<rect x="238.18" y="452.0" width="3" height="28.0" fill="#3b6ddb"/>
<line x1="243.81" x2="243.81" y1="460.0" y2="500.0" stroke="#dc5156" stroke-width="1.15"/>
<rect x="242.31" y="462.0" width="3" height="17.0" fill="#dc5156"/>
<line x1="247.93" x2="247.93" y1="417.0" y2="465.0" stroke="#dc5156" stroke-width="1.15"/>
<rect x="246.43" y="421.0" width="3" height="41.0" fill="#dc5156"/>
<line x1="252.06" x2="252.06" y1="415.0" y2="446.0" stroke="#3b6ddb" stroke-width="1.15"/>
<rect x="250.56" y="421.0" width="3" height="18.0" fill="#3b6ddb"/>
<line x1="256.19" x2="256.19" y1="406.0" y2="441.0" stroke="#dc5156" stroke-width="1.15"/>
<rect x="254.69" y="416.0" width="3" height="24.0" fill="#dc5156"/>
<line x1="260.31" x2="260.31" y1="409.0" y2="455.0" stroke="#3b6ddb" stroke-width="1.15"/>
<rect x="258.81" y="417.0" width="3" height="37.0" fill="#3b6ddb"/>
<line x1="264.44" x2="264.44" y1="440.0" y2="458.0" stroke="#dc5156" stroke-width="1.15"/>
<rect x="262.94" y="446.0" width="3" height="8.0" fill="#dc5156"/>
<line x1="268.56" x2="268.56" y1="426.0" y2="452.0" stroke="#dc5156" stroke-width="1.15"/>
<rect x="267.06" y="429.0" width="3" height="17.0" fill="#dc5156"/>
<line x1="272.69" x2="272.69" y1="369.0" y2="431.0" stroke="#dc5156" stroke-width="1.15"/>
<rect x="271.19" y="377.0" width="3" height="53.0" fill="#dc5156"/>
<line x1="276.82" x2="276.82" y1="364.0" y2="407.0" stroke="#3b6ddb" stroke-width="1.15"/>
<rect x="275.32" y="377.0" width="3" height="10.0" fill="#3b6ddb"/>
<line x1="280.94" x2="280.94" y1="385.0" y2="416.0" stroke="#3b6ddb" stroke-width="1.15"/>
<rect x="279.44" y="391.0" width="3" height="24.0" fill="#3b6ddb"/>
<line x1="285.07" x2="285.07" y1="412.0" y2="446.0" stroke="#3b6ddb" stroke-width="1.15"/>
<rect x="283.57" y="415.0" width="3" height="29.0" fill="#3b6ddb"/>
<line x1="289.19" x2="289.19" y1="412.0" y2="446.0" stroke="#dc5156" stroke-width="1.15"/>
<rect x="287.69" y="414.0" width="3" height="30.0" fill="#dc5156"/>
<line x1="293.32" x2="293.32" y1="357.0" y2="416.0" stroke="#dc5156" stroke-width="1.15"/>
<rect x="291.82" y="362.0" width="3" height="53.0" fill="#dc5156"/>
<line x1="297.45" x2="297.45" y1="357.0" y2="390.0" stroke="#3b6ddb" stroke-width="1.15"/>
<rect x="295.95" y="364.0" width="3" height="16.0" fill="#3b6ddb"/>
<line x1="301.57" x2="301.57" y1="302.0" y2="367.0" stroke="#dc5156" stroke-width="1.15"/>
<rect x="300.07" y="306.0" width="3" height="55.0" fill="#dc5156"/>
<line x1="305.70" x2="305.70" y1="305.0" y2="332.0" stroke="#3b6ddb" stroke-width="1.15"/>
<rect x="304.20" y="306.0" width="3" height="24.0" fill="#3b6ddb"/>
<line x1="309.82" x2="309.82" y1="325.0" y2="367.0" stroke="#3b6ddb" stroke-width="1.15"/>
<rect x="308.32" y="329.0" width="3" height="16.0" fill="#3b6ddb"/>
<line x1="313.95" x2="313.95" y1="342.0" y2="375.0" stroke="#3b6ddb" stroke-width="1.15"/>
<rect x="312.45" y="345.0" width="3" height="25.0" fill="#3b6ddb"/>
<line x1="318.08" x2="318.08" y1="360.0" y2="385.0" stroke="#3b6ddb" stroke-width="1.15"/>
<rect x="316.58" y="369.0" width="3" height="5.0" fill="#3b6ddb"/>
<line x1="322.20" x2="322.20" y1="364.0" y2="392.0" stroke="#3b6ddb" stroke-width="1.15"/>
<rect x="320.70" y="376.0" width="3" height="13.0" fill="#3b6ddb"/>
<line x1="326.33" x2="326.33" y1="380.0" y2="400.0" stroke="#3b6ddb" stroke-width="1.15"/>
<rect x="324.83" y="389.0" width="3" height="8.0" fill="#3b6ddb"/>
<line x1="330.45" x2="330.45" y1="395.0" y2="424.0" stroke="#3b6ddb" stroke-width="1.15"/>
<rect x="328.95" y="396.0" width="3" height="20.0" fill="#3b6ddb"/>
<line x1="334.58" x2="334.58" y1="397.0" y2="430.0" stroke="#dc5156" stroke-width="1.15"/>
<rect x="333.08" y="406.0" width="3" height="11.0" fill="#dc5156"/>
<line x1="338.71" x2="338.71" y1="405.0" y2="444.0" stroke="#3b6ddb" stroke-width="1.15"/>
<rect x="337.21" y="406.0" width="3" height="35.0" fill="#3b6ddb"/>
<line x1="342.83" x2="342.83" y1="429.0" y2="447.0" stroke="#dc5156" stroke-width="1.15"/>
<rect x="341.33" y="434.0" width="3" height="11.0" fill="#dc5156"/>
<line x1="346.96" x2="346.96" y1="399.0" y2="450.0" stroke="#dc5156" stroke-width="1.15"/>
<rect x="345.46" y="400.0" width="3" height="34.0" fill="#dc5156"/>
<line x1="351.08" x2="351.08" y1="384.0" y2="410.0" stroke="#dc5156" stroke-width="1.15"/>
<rect x="349.58" y="387.0" width="3" height="14.0" fill="#dc5156"/>
<line x1="355.21" x2="355.21" y1="356.0" y2="410.0" stroke="#3b6ddb" stroke-width="1.15"/>
<rect x="353.71" y="395.0" width="3" height="11.0" fill="#3b6ddb"/>
<line x1="359.34" x2="359.34" y1="401.0" y2="417.0" stroke="#3b6ddb" stroke-width="1.15"/>
<rect x="357.84" y="402.0" width="3" height="8.0" fill="#3b6ddb"/>
<line x1="363.46" x2="363.46" y1="405.0" y2="441.0" stroke="#3b6ddb" stroke-width="1.15"/>
<rect x="361.96" y="406.0" width="3" height="34.0" fill="#3b6ddb"/>
<line x1="367.59" x2="367.59" y1="406.0" y2="445.0" stroke="#dc5156" stroke-width="1.15"/>
<rect x="366.09" y="407.0" width="3" height="33.0" fill="#dc5156"/>
<line x1="371.71" x2="371.71" y1="399.0" y2="439.0" stroke="#3b6ddb" stroke-width="1.15"/>
<rect x="370.21" y="407.0" width="3" height="30.0" fill="#3b6ddb"/>
<line x1="375.84" x2="375.84" y1="410.0" y2="440.0" stroke="#dc5156" stroke-width="1.15"/>
<rect x="374.34" y="419.0" width="3" height="18.0" fill="#dc5156"/>
<line x1="379.97" x2="379.97" y1="384.0" y2="420.0" stroke="#dc5156" stroke-width="1.15"/>
<rect x="378.47" y="390.0" width="3" height="29.0" fill="#dc5156"/>
<line x1="384.09" x2="384.09" y1="387.0" y2="406.0" stroke="#3b6ddb" stroke-width="1.15"/>
<rect x="382.59" y="389.0" width="3" height="6.0" fill="#3b6ddb"/>
<line x1="388.22" x2="388.22" y1="380.0" y2="395.0" stroke="#dc5156" stroke-width="1.15"/>
<rect x="386.72" y="386.0" width="3" height="9.0" fill="#dc5156"/>
<line x1="392.34" x2="392.34" y1="375.0" y2="400.0" stroke="#3b6ddb" stroke-width="1.15"/>
<rect x="390.84" y="389.0" width="3" height="7.0" fill="#3b6ddb"/>
<line x1="396.47" x2="396.47" y1="394.0" y2="425.0" stroke="#3b6ddb" stroke-width="1.15"/>
<rect x="394.97" y="395.0" width="3" height="24.0" fill="#3b6ddb"/>
<line x1="400.60" x2="400.60" y1="400.0" y2="435.0" stroke="#dc5156" stroke-width="1.15"/>
<rect x="399.10" y="405.0" width="3" height="15.0" fill="#dc5156"/>
<line x1="404.72" x2="404.72" y1="389.0" y2="415.0" stroke="#dc5156" stroke-width="1.15"/>
<rect x="403.22" y="391.0" width="3" height="16.0" fill="#dc5156"/>
<line x1="408.85" x2="408.85" y1="377.0" y2="400.0" stroke="#dc5156" stroke-width="1.15"/>
<rect x="407.35" y="379.0" width="3" height="13.0" fill="#dc5156"/>
<line x1="412.97" x2="412.97" y1="375.0" y2="387.0" stroke="#3b6ddb" stroke-width="1.15"/>
<rect x="411.47" y="379.0" width="3" height="5.0" fill="#3b6ddb"/>
<line x1="417.10" x2="417.10" y1="365.0" y2="397.0" stroke="#dc5156" stroke-width="1.15"/>
<rect x="415.60" y="369.0" width="3" height="13.0" fill="#dc5156"/>
<line x1="421.23" x2="421.23" y1="357.0" y2="380.0" stroke="#dc5156" stroke-width="1.15"/>
<rect x="419.73" y="360.0" width="3" height="15.0" fill="#dc5156"/>
<line x1="425.35" x2="425.35" y1="316.0" y2="370.0" stroke="#3b6ddb" stroke-width="1.15"/>
<rect x="423.85" y="349.0" width="3" height="11.0" fill="#3b6ddb"/>
<line x1="429.48" x2="429.48" y1="359.0" y2="395.0" stroke="#3b6ddb" stroke-width="1.15"/>
<rect x="427.98" y="360.0" width="3" height="27.0" fill="#3b6ddb"/>
<line x1="433.60" x2="433.60" y1="365.0" y2="395.0" stroke="#dc5156" stroke-width="1.15"/>
<rect x="432.10" y="380.0" width="3" height="9.0" fill="#dc5156"/>
<line x1="437.73" x2="437.73" y1="379.0" y2="412.0" stroke="#3b6ddb" stroke-width="1.15"/>
<rect x="436.23" y="380.0" width="3" height="20.0" fill="#3b6ddb"/>
<line x1="441.86" x2="441.86" y1="389.0" y2="402.0" stroke="#dc5156" stroke-width="1.15"/>
<rect x="440.36" y="394.0" width="3" height="6.0" fill="#dc5156"/>
<line x1="445.98" x2="445.98" y1="390.0" y2="411.0" stroke="#3b6ddb" stroke-width="1.15"/>
<rect x="444.48" y="395.0" width="3" height="14.0" fill="#3b6ddb"/>
<line x1="450.11" x2="450.11" y1="406.0" y2="437.0" stroke="#3b6ddb" stroke-width="1.15"/>
<rect x="448.61" y="407.0" width="3" height="14.0" fill="#3b6ddb"/>
<line x1="454.23" x2="454.23" y1="405.0" y2="422.0" stroke="#dc5156" stroke-width="1.15"/>
<rect x="452.73" y="416.0" width="3" height="5.0" fill="#dc5156"/>
<line x1="458.36" x2="458.36" y1="380.0" y2="419.0" stroke="#dc5156" stroke-width="1.15"/>
<rect x="456.86" y="387.0" width="3" height="29.0" fill="#dc5156"/>
<line x1="462.49" x2="462.49" y1="385.0" y2="401.0" stroke="#3b6ddb" stroke-width="1.15"/>
<rect x="460.99" y="387.0" width="3" height="10.0" fill="#3b6ddb"/>
<line x1="466.61" x2="466.61" y1="356.0" y2="401.0" stroke="#dc5156" stroke-width="1.15"/>
<rect x="465.11" y="360.0" width="3" height="35.0" fill="#dc5156"/>
<line x1="470.74" x2="470.74" y1="341.0" y2="362.0" stroke="#dc5156" stroke-width="1.15"/>
<rect x="469.24" y="350.0" width="3" height="11.0" fill="#dc5156"/>
<line x1="474.86" x2="474.86" y1="335.0" y2="356.0" stroke="#3b6ddb" stroke-width="1.15"/>
<rect x="473.36" y="350.0" width="3" height="5.0" fill="#3b6ddb"/>
<line x1="478.99" x2="478.99" y1="342.0" y2="367.0" stroke="#3b6ddb" stroke-width="1.15"/>
<rect x="477.49" y="355.0" width="3" height="2.0" fill="#3b6ddb"/>
<line x1="483.12" x2="483.12" y1="326.0" y2="359.0" stroke="#dc5156" stroke-width="1.15"/>
<rect x="481.62" y="329.0" width="3" height="28.0" fill="#dc5156"/>
<line x1="487.24" x2="487.24" y1="321.0" y2="342.0" stroke="#dc5156" stroke-width="1.15"/>
<rect x="485.74" y="322.0" width="3" height="14.0" fill="#dc5156"/>
<line x1="491.37" x2="491.37" y1="294.0" y2="326.0" stroke="#dc5156" stroke-width="1.15"/>
<rect x="489.87" y="297.0" width="3" height="27.0" fill="#dc5156"/>
<line x1="495.49" x2="495.49" y1="290.0" y2="341.0" stroke="#3b6ddb" stroke-width="1.15"/>
<rect x="493.99" y="297.0" width="3" height="22.0" fill="#3b6ddb"/>
<line x1="499.62" x2="499.62" y1="294.0" y2="321.0" stroke="#dc5156" stroke-width="1.15"/>
<rect x="498.12" y="305.0" width="3" height="15.0" fill="#dc5156"/>
<line x1="503.75" x2="503.75" y1="303.0" y2="312.0" stroke="#dc5156" stroke-width="1.15"/>
<rect x="502.25" y="305.0" width="3" height="4.0" fill="#dc5156"/>
<line x1="507.87" x2="507.87" y1="305.0" y2="332.0" stroke="#3b6ddb" stroke-width="1.15"/>
<rect x="506.37" y="319.0" width="3" height="12.0" fill="#3b6ddb"/>
<line x1="512.00" x2="512.00" y1="317.0" y2="355.0" stroke="#3b6ddb" stroke-width="1.15"/>
<rect x="510.50" y="330.0" width="3" height="19.0" fill="#3b6ddb"/>
<line x1="516.12" x2="516.12" y1="335.0" y2="360.0" stroke="#3b6ddb" stroke-width="1.15"/>
<rect x="514.62" y="349.0" width="3" height="2.0" fill="#3b6ddb"/>
<line x1="520.25" x2="520.25" y1="337.0" y2="365.0" stroke="#dc5156" stroke-width="1.15"/>
<rect x="518.75" y="340.0" width="3" height="10.0" fill="#dc5156"/>
<line x1="524.38" x2="524.38" y1="320.0" y2="342.0" stroke="#dc5156" stroke-width="1.15"/>
<rect x="522.88" y="322.0" width="3" height="19.0" fill="#dc5156"/>
<line x1="528.50" x2="528.50" y1="302.0" y2="327.0" stroke="#dc5156" stroke-width="1.15"/>
<rect x="527.00" y="305.0" width="3" height="19.0" fill="#dc5156"/>
<line x1="532.63" x2="532.63" y1="299.0" y2="311.0" stroke="#3b6ddb" stroke-width="1.15"/>
<rect x="531.13" y="305.0" width="3" height="1.0" fill="#3b6ddb"/>
<line x1="536.75" x2="536.75" y1="282.0" y2="312.0" stroke="#dc5156" stroke-width="1.15"/>
<rect x="535.25" y="284.0" width="3" height="23.0" fill="#dc5156"/>
<line x1="540.88" x2="540.88" y1="250.0" y2="322.0" stroke="#dc5156" stroke-width="1.15"/>
<rect x="539.38" y="254.0" width="3" height="51.0" fill="#dc5156"/>
<line x1="545.01" x2="545.01" y1="250.0" y2="331.0" stroke="#3b6ddb" stroke-width="1.15"/>
<rect x="543.51" y="254.0" width="3" height="76.0" fill="#3b6ddb"/>
<line x1="549.13" x2="549.13" y1="315.0" y2="340.0" stroke="#3b6ddb" stroke-width="1.15"/>
<rect x="547.63" y="327.0" width="3" height="5.0" fill="#3b6ddb"/>
<line x1="553.26" x2="553.26" y1="321.0" y2="347.0" stroke="#dc5156" stroke-width="1.15"/>
<rect x="551.76" y="326.0" width="3" height="11.0" fill="#dc5156"/>
<line x1="557.38" x2="557.38" y1="319.0" y2="340.0" stroke="#3b6ddb" stroke-width="1.15"/>
<rect x="555.88" y="326.0" width="3" height="4.0" fill="#3b6ddb"/>
<line x1="561.51" x2="561.51" y1="324.0" y2="350.0" stroke="#3b6ddb" stroke-width="1.15"/>
<rect x="560.01" y="330.0" width="3" height="7.0" fill="#3b6ddb"/>
<line x1="565.64" x2="565.64" y1="319.0" y2="345.0" stroke="#dc5156" stroke-width="1.15"/>
<rect x="564.14" y="322.0" width="3" height="15.0" fill="#dc5156"/>
<line x1="569.76" x2="569.76" y1="310.0" y2="330.0" stroke="#dc5156" stroke-width="1.15"/>
<rect x="568.26" y="312.0" width="3" height="13.0" fill="#dc5156"/>
<line x1="573.89" x2="573.89" y1="305.0" y2="325.0" stroke="#3b6ddb" stroke-width="1.15"/>
<rect x="572.39" y="310.0" width="3" height="10.0" fill="#3b6ddb"/>
<line x1="578.01" x2="578.01" y1="312.0" y2="336.0" stroke="#3b6ddb" stroke-width="1.15"/>
<rect x="576.51" y="319.0" width="3" height="12.0" fill="#3b6ddb"/>
<line x1="582.14" x2="582.14" y1="320.0" y2="356.0" stroke="#dc5156" stroke-width="1.15"/>
<rect x="580.64" y="322.0" width="3" height="9.0" fill="#dc5156"/>
<line x1="586.27" x2="586.27" y1="320.0" y2="352.0" stroke="#3b6ddb" stroke-width="1.15"/>
<rect x="584.77" y="321.0" width="3" height="14.0" fill="#3b6ddb"/>
<line x1="590.39" x2="590.39" y1="317.0" y2="342.0" stroke="#dc5156" stroke-width="1.15"/>
<rect x="588.89" y="320.0" width="3" height="15.0" fill="#dc5156"/>
<line x1="594.52" x2="594.52" y1="314.0" y2="325.0" stroke="#3b6ddb" stroke-width="1.15"/>
<rect x="593.02" y="317.0" width="3" height="7.0" fill="#3b6ddb"/>
<line x1="598.64" x2="598.64" y1="320.0" y2="340.0" stroke="#3b6ddb" stroke-width="1.15"/>
<rect x="597.14" y="322.0" width="3" height="9.0" fill="#3b6ddb"/>
<line x1="602.77" x2="602.77" y1="307.0" y2="332.0" stroke="#dc5156" stroke-width="1.15"/>
<rect x="601.27" y="309.0" width="3" height="21.0" fill="#dc5156"/>
<line x1="606.90" x2="606.90" y1="300.0" y2="350.0" stroke="#3b6ddb" stroke-width="1.15"/>
<rect x="605.40" y="307.0" width="3" height="37.0" fill="#3b6ddb"/>
<line x1="611.02" x2="611.02" y1="319.0" y2="346.0" stroke="#dc5156" stroke-width="1.15"/>
<rect x="609.52" y="321.0" width="3" height="24.0" fill="#dc5156"/>
<line x1="615.15" x2="615.15" y1="320.0" y2="337.0" stroke="#3b6ddb" stroke-width="1.15"/>
<rect x="613.65" y="324.0" width="3" height="6.0" fill="#3b6ddb"/>
<line x1="619.27" x2="619.27" y1="314.0" y2="332.0" stroke="#dc5156" stroke-width="1.15"/>
<rect x="617.77" y="329.0" width="3" height="2.0" fill="#dc5156"/>
<line x1="623.40" x2="623.40" y1="327.0" y2="346.0" stroke="#3b6ddb" stroke-width="1.15"/>
<rect x="621.90" y="330.0" width="3" height="12.0" fill="#3b6ddb"/>
<line x1="627.53" x2="627.53" y1="330.0" y2="345.0" stroke="#dc5156" stroke-width="1.15"/>
<rect x="626.03" y="336.0" width="3" height="6.0" fill="#dc5156"/>
<line x1="631.65" x2="631.65" y1="330.0" y2="342.0" stroke="#dc5156" stroke-width="1.15"/>
<rect x="630.15" y="335.0" width="3" height="4.0" fill="#dc5156"/>
<line x1="635.78" x2="635.78" y1="296.0" y2="337.0" stroke="#dc5156" stroke-width="1.15"/>
<rect x="634.28" y="309.0" width="3" height="26.0" fill="#dc5156"/>
<line x1="639.90" x2="639.90" y1="290.0" y2="320.0" stroke="#3b6ddb" stroke-width="1.15"/>
<rect x="638.40" y="309.0" width="3" height="8.0" fill="#3b6ddb"/>
<line x1="644.03" x2="644.03" y1="300.0" y2="320.0" stroke="#dc5156" stroke-width="1.15"/>
<rect x="642.53" y="305.0" width="3" height="11.0" fill="#dc5156"/>
<line x1="648.16" x2="648.16" y1="304.0" y2="342.0" stroke="#3b6ddb" stroke-width="1.15"/>
<rect x="646.66" y="305.0" width="3" height="25.0" fill="#3b6ddb"/>
<line x1="652.28" x2="652.28" y1="305.0" y2="330.0" stroke="#3b6ddb" stroke-width="1.15"/>
<rect x="650.78" y="315.0" width="3" height="12.0" fill="#3b6ddb"/>
<line x1="656.41" x2="656.41" y1="325.0" y2="355.0" stroke="#3b6ddb" stroke-width="1.15"/>
<rect x="654.91" y="327.0" width="3" height="6.0" fill="#3b6ddb"/>
<line x1="660.53" x2="660.53" y1="322.0" y2="335.0" stroke="#dc5156" stroke-width="1.15"/>
<rect x="659.03" y="327.0" width="3" height="5.0" fill="#dc5156"/>
<line x1="664.66" x2="664.66" y1="312.0" y2="340.0" stroke="#3b6ddb" stroke-width="1.15"/>
<rect x="663.16" y="322.0" width="3" height="10.0" fill="#3b6ddb"/>
<line x1="668.79" x2="668.79" y1="315.0" y2="336.0" stroke="#dc5156" stroke-width="1.15"/>
<rect x="667.29" y="322.0" width="3" height="12.0" fill="#dc5156"/>
<line x1="672.91" x2="672.91" y1="321.0" y2="332.0" stroke="#3b6ddb" stroke-width="1.15"/>
<rect x="671.41" y="324.0" width="3" height="6.0" fill="#3b6ddb"/>
<line x1="677.04" x2="677.04" y1="330.0" y2="355.0" stroke="#3b6ddb" stroke-width="1.15"/>
<rect x="675.54" y="331.0" width="3" height="21.0" fill="#3b6ddb"/>
<line x1="681.16" x2="681.16" y1="337.0" y2="373.0" stroke="#dc5156" stroke-width="1.15"/>
<rect x="679.66" y="341.0" width="3" height="16.0" fill="#dc5156"/>
<line x1="685.29" x2="685.29" y1="310.0" y2="345.0" stroke="#dc5156" stroke-width="1.15"/>
<rect x="683.79" y="317.0" width="3" height="25.0" fill="#dc5156"/>
<line x1="689.42" x2="689.42" y1="310.0" y2="327.0" stroke="#3b6ddb" stroke-width="1.15"/>
<rect x="687.92" y="317.0" width="3" height="7.0" fill="#3b6ddb"/>
<line x1="693.54" x2="693.54" y1="307.0" y2="330.0" stroke="#3b6ddb" stroke-width="1.15"/>
<rect x="692.04" y="317.0" width="3" height="7.0" fill="#3b6ddb"/>
<line x1="697.67" x2="697.67" y1="317.0" y2="327.0" stroke="#3b6ddb" stroke-width="1.15"/>
<rect x="696.17" y="320.0" width="3" height="5.0" fill="#3b6ddb"/>
<line x1="701.79" x2="701.79" y1="290.0" y2="326.0" stroke="#dc5156" stroke-width="1.15"/>
<rect x="700.29" y="296.0" width="3" height="29.0" fill="#dc5156"/>
<line x1="705.92" x2="705.92" y1="272.0" y2="300.0" stroke="#dc5156" stroke-width="1.15"/>
<rect x="704.42" y="276.0" width="3" height="21.0" fill="#dc5156"/>
<line x1="710.05" x2="710.05" y1="272.0" y2="285.0" stroke="#3b6ddb" stroke-width="1.15"/>
<rect x="708.55" y="275.0" width="3" height="7.0" fill="#3b6ddb"/>
<line x1="714.17" x2="714.17" y1="281.0" y2="306.0" stroke="#3b6ddb" stroke-width="1.15"/>
<rect x="712.67" y="282.0" width="3" height="23.0" fill="#3b6ddb"/>
<line x1="718.30" x2="718.30" y1="299.0" y2="327.0" stroke="#3b6ddb" stroke-width="1.15"/>
<rect x="716.80" y="305.0" width="3" height="17.0" fill="#3b6ddb"/>
<line x1="722.42" x2="722.42" y1="312.0" y2="349.0" stroke="#3b6ddb" stroke-width="1.15"/>
<rect x="720.92" y="319.0" width="3" height="20.0" fill="#3b6ddb"/>
<line x1="726.55" x2="726.55" y1="327.0" y2="347.0" stroke="#dc5156" stroke-width="1.15"/>
<rect x="725.05" y="332.0" width="3" height="7.0" fill="#dc5156"/>
<line x1="730.68" x2="730.68" y1="321.0" y2="337.0" stroke="#dc5156" stroke-width="1.15"/>
<rect x="729.18" y="329.0" width="3" height="6.0" fill="#dc5156"/>
<line x1="734.80" x2="734.80" y1="260.0" y2="294.0" stroke="#dc5156" stroke-width="1.15"/>
<rect x="733.30" y="264.0" width="3" height="21.0" fill="#dc5156"/>
<line x1="738.93" x2="738.93" y1="225.0" y2="266.0" stroke="#dc5156" stroke-width="1.15"/>
<rect x="737.43" y="227.0" width="3" height="37.0" fill="#dc5156"/>
<line x1="743.05" x2="743.05" y1="204.0" y2="231.0" stroke="#dc5156" stroke-width="1.15"/>
<rect x="741.55" y="210.0" width="3" height="19.0" fill="#dc5156"/>
<line x1="747.18" x2="747.18" y1="197.0" y2="217.0" stroke="#dc5156" stroke-width="1.15"/>
<rect x="745.68" y="201.0" width="3" height="10.0" fill="#dc5156"/>
<line x1="751.31" x2="751.31" y1="196.0" y2="246.0" stroke="#3b6ddb" stroke-width="1.15"/>
<rect x="749.81" y="201.0" width="3" height="45.0" fill="#3b6ddb"/>
<line x1="755.43" x2="755.43" y1="215.0" y2="234.0" stroke="#dc5156" stroke-width="1.15"/>
<rect x="753.93" y="220.0" width="3" height="12.0" fill="#dc5156"/>
<line x1="759.56" x2="759.56" y1="211.0" y2="231.0" stroke="#3b6ddb" stroke-width="1.15"/>
<rect x="758.06" y="219.0" width="3" height="11.0" fill="#3b6ddb"/>
<line x1="763.68" x2="763.68" y1="229.0" y2="250.0" stroke="#3b6ddb" stroke-width="1.15"/>
<rect x="762.18" y="230.0" width="3" height="19.0" fill="#3b6ddb"/>
<line x1="767.81" x2="767.81" y1="239.0" y2="264.0" stroke="#3b6ddb" stroke-width="1.15"/>
<rect x="766.31" y="246.0" width="3" height="16.0" fill="#3b6ddb"/>
<line x1="771.94" x2="771.94" y1="255.0" y2="282.0" stroke="#dc5156" stroke-width="1.15"/>
<rect x="770.44" y="257.0" width="3" height="4.0" fill="#dc5156"/>
<line x1="776.06" x2="776.06" y1="245.0" y2="265.0" stroke="#dc5156" stroke-width="1.15"/>
<rect x="774.56" y="254.0" width="3" height="5.0" fill="#dc5156"/>
<line x1="780.19" x2="780.19" y1="222.0" y2="260.0" stroke="#dc5156" stroke-width="1.15"/>
<rect x="778.69" y="226.0" width="3" height="29.0" fill="#dc5156"/>
<line x1="784.31" x2="784.31" y1="224.0" y2="234.0" stroke="#dc5156" stroke-width="1.15"/>
<rect x="782.81" y="225.0" width="3" height="4.0" fill="#dc5156"/>
<line x1="788.44" x2="788.44" y1="207.0" y2="229.0" stroke="#dc5156" stroke-width="1.15"/>
<rect x="786.94" y="212.0" width="3" height="15.0" fill="#dc5156"/>
<line x1="792.57" x2="792.57" y1="201.0" y2="220.0" stroke="#dc5156" stroke-width="1.15"/>
<rect x="791.07" y="205.0" width="3" height="9.0" fill="#dc5156"/>
<line x1="796.69" x2="796.69" y1="197.0" y2="210.0" stroke="#dc5156" stroke-width="1.15"/>
<rect x="795.19" y="204.0" width="3" height="3.0" fill="#dc5156"/>
<line x1="800.82" x2="800.82" y1="204.0" y2="230.0" stroke="#3b6ddb" stroke-width="1.15"/>
<rect x="799.32" y="206.0" width="3" height="18.0" fill="#3b6ddb"/>
<line x1="804.94" x2="804.94" y1="201.0" y2="235.0" stroke="#dc5156" stroke-width="1.15"/>
<rect x="803.44" y="207.0" width="3" height="15.0" fill="#dc5156"/>
<line x1="809.07" x2="809.07" y1="170.0" y2="212.0" stroke="#dc5156" stroke-width="1.15"/>
<rect x="807.57" y="177.0" width="3" height="33.0" fill="#dc5156"/>
<line x1="813.20" x2="813.20" y1="171.0" y2="186.0" stroke="#3b6ddb" stroke-width="1.15"/>
<rect x="811.70" y="177.0" width="3" height="3.0" fill="#3b6ddb"/>
<line x1="817.32" x2="817.32" y1="174.0" y2="182.0" stroke="#dc5156" stroke-width="1.15"/>
<rect x="815.82" y="175.0" width="3" height="6.0" fill="#dc5156"/>
<line x1="821.45" x2="821.45" y1="170.0" y2="190.0" stroke="#3b6ddb" stroke-width="1.15"/>
<rect x="819.95" y="174.0" width="3" height="15.0" fill="#3b6ddb"/>
<line x1="825.57" x2="825.57" y1="172.0" y2="204.0" stroke="#3b6ddb" stroke-width="1.15"/>
<rect x="824.07" y="177.0" width="3" height="25.0" fill="#3b6ddb"/>
<line x1="829.70" x2="829.70" y1="177.0" y2="204.0" stroke="#3b6ddb" stroke-width="1.15"/>
<rect x="828.20" y="179.0" width="3" height="22.0" fill="#3b6ddb"/>
<line x1="833.83" x2="833.83" y1="190.0" y2="207.0" stroke="#dc5156" stroke-width="1.15"/>
<rect x="832.33" y="192.0" width="3" height="9.0" fill="#dc5156"/>
<line x1="837.95" x2="837.95" y1="175.0" y2="195.0" stroke="#dc5156" stroke-width="1.15"/>
<rect x="836.45" y="177.0" width="3" height="15.0" fill="#dc5156"/>
<line x1="842.08" x2="842.08" y1="162.0" y2="180.0" stroke="#dc5156" stroke-width="1.15"/>
<rect x="840.58" y="170.0" width="3" height="9.0" fill="#dc5156"/>
<line x1="846.20" x2="846.20" y1="157.0" y2="180.0" stroke="#dc5156" stroke-width="1.15"/>
<rect x="844.70" y="161.0" width="3" height="16.0" fill="#dc5156"/>
<line x1="850.33" x2="850.33" y1="157.0" y2="177.0" stroke="#3b6ddb" stroke-width="1.15"/>
<rect x="848.83" y="162.0" width="3" height="8.0" fill="#3b6ddb"/>
<line x1="854.46" x2="854.46" y1="165.0" y2="189.0" stroke="#dc5156" stroke-width="1.15"/>
<rect x="852.96" y="169.0" width="3" height="6.0" fill="#dc5156"/>
<line x1="858.58" x2="858.58" y1="151.0" y2="172.0" stroke="#dc5156" stroke-width="1.15"/>
<rect x="857.08" y="154.0" width="3" height="17.0" fill="#dc5156"/>
<line x1="862.71" x2="862.71" y1="141.0" y2="157.0" stroke="#dc5156" stroke-width="1.15"/>
<rect x="861.21" y="146.0" width="3" height="9.0" fill="#dc5156"/>
<line x1="866.83" x2="866.83" y1="107.0" y2="150.0" stroke="#dc5156" stroke-width="1.15"/>
<rect x="865.33" y="110.0" width="3" height="37.0" fill="#dc5156"/>
<line x1="870.96" x2="870.96" y1="92.0" y2="125.0" stroke="#dc5156" stroke-width="1.15"/>
<rect x="869.46" y="101.0" width="3" height="8.0" fill="#dc5156"/>
<line x1="875.09" x2="875.09" y1="100.0" y2="127.0" stroke="#3b6ddb" stroke-width="1.15"/>
<rect x="873.59" y="101.0" width="3" height="24.0" fill="#3b6ddb"/>
<line x1="879.21" x2="879.21" y1="112.0" y2="130.0" stroke="#3b6ddb" stroke-width="1.15"/>
<rect x="877.71" y="118.0" width="3" height="6.0" fill="#3b6ddb"/>
<line x1="883.34" x2="883.34" y1="107.0" y2="140.0" stroke="#3b6ddb" stroke-width="1.15"/>
<rect x="881.84" y="122.0" width="3" height="13.0" fill="#3b6ddb"/>
<line x1="887.46" x2="887.46" y1="125.0" y2="142.0" stroke="#dc5156" stroke-width="1.15"/>
<rect x="885.96" y="127.0" width="3" height="8.0" fill="#dc5156"/>
<line x1="891.59" x2="891.59" y1="122.0" y2="140.0" stroke="#3b6ddb" stroke-width="1.15"/>
<rect x="890.09" y="125.0" width="3" height="7.0" fill="#3b6ddb"/>
<line x1="895.72" x2="895.72" y1="125.0" y2="134.0" stroke="#3b6ddb" stroke-width="1.15"/>
<rect x="894.22" y="127.0" width="3" height="5.0" fill="#3b6ddb"/>
<line x1="899.84" x2="899.84" y1="131.0" y2="160.0" stroke="#3b6ddb" stroke-width="1.15"/>
<rect x="898.34" y="132.0" width="3" height="17.0" fill="#3b6ddb"/>
<line x1="903.97" x2="903.97" y1="132.0" y2="149.0" stroke="#dc5156" stroke-width="1.15"/>
<rect x="902.47" y="137.0" width="3" height="10.0" fill="#dc5156"/>
<line x1="908.09" x2="908.09" y1="137.0" y2="155.0" stroke="#3b6ddb" stroke-width="1.15"/>
<rect x="906.59" y="139.0" width="3" height="15.0" fill="#3b6ddb"/>
<line x1="912.22" x2="912.22" y1="146.0" y2="167.0" stroke="#3b6ddb" stroke-width="1.15"/>
<rect x="910.72" y="152.0" width="3" height="5.0" fill="#3b6ddb"/>
<line x1="916.35" x2="916.35" y1="142.0" y2="172.0" stroke="#dc5156" stroke-width="1.15"/>
<rect x="914.85" y="150.0" width="3" height="6.0" fill="#dc5156"/>
<line x1="920.47" x2="920.47" y1="135.0" y2="157.0" stroke="#dc5156" stroke-width="1.15"/>
<rect x="918.97" y="136.0" width="3" height="14.0" fill="#dc5156"/>
<line x1="924.60" x2="924.60" y1="112.0" y2="145.0" stroke="#dc5156" stroke-width="1.15"/>
<rect x="923.10" y="114.0" width="3" height="23.0" fill="#dc5156"/>
<line x1="928.72" x2="928.72" y1="114.0" y2="140.0" stroke="#3b6ddb" stroke-width="1.15"/>
<rect x="927.22" y="115.0" width="3" height="21.0" fill="#3b6ddb"/>
<line x1="932.85" x2="932.85" y1="131.0" y2="159.0" stroke="#3b6ddb" stroke-width="1.15"/>
<rect x="931.35" y="135.0" width="3" height="9.0" fill="#3b6ddb"/>
<line x1="936.98" x2="936.98" y1="132.0" y2="149.0" stroke="#dc5156" stroke-width="1.15"/>
<rect x="935.48" y="140.0" width="3" height="5.0" fill="#dc5156"/>
<line x1="941.10" x2="941.10" y1="135.0" y2="160.0" stroke="#3b6ddb" stroke-width="1.15"/>
<rect x="939.60" y="140.0" width="3" height="14.0" fill="#3b6ddb"/>
<line x1="945.23" x2="945.23" y1="145.0" y2="171.0" stroke="#3b6ddb" stroke-width="1.15"/>
<rect x="943.73" y="152.0" width="3" height="14.0" fill="#3b6ddb"/>
<line x1="949.35" x2="949.35" y1="142.0" y2="169.0" stroke="#dc5156" stroke-width="1.15"/>
<rect x="947.85" y="144.0" width="3" height="22.0" fill="#dc5156"/>
<line x1="953.48" x2="953.48" y1="140.0" y2="150.0" stroke="#3b6ddb" stroke-width="1.15"/>
<rect x="951.98" y="142.0" width="3" height="5.0" fill="#3b6ddb"/>
<line x1="957.61" x2="957.61" y1="95.0" y2="149.0" stroke="#dc5156" stroke-width="1.15"/>
<rect x="956.11" y="96.0" width="3" height="51.0" fill="#dc5156"/>
<line x1="961.73" x2="961.73" y1="96.0" y2="119.0" stroke="#3b6ddb" stroke-width="1.15"/>
<rect x="960.23" y="96.0" width="3" height="3.0" fill="#3b6ddb"/>
<line x1="965.86" x2="965.86" y1="111.0" y2="142.0" stroke="#3b6ddb" stroke-width="1.15"/>
<rect x="964.36" y="112.0" width="3" height="19.0" fill="#3b6ddb"/>
<line x1="969.98" x2="969.98" y1="129.0" y2="145.0" stroke="#3b6ddb" stroke-width="1.15"/>
<rect x="968.48" y="130.0" width="3" height="6.0" fill="#3b6ddb"/>
<line x1="974.11" x2="974.11" y1="119.0" y2="137.0" stroke="#dc5156" stroke-width="1.15"/>
<rect x="972.61" y="124.0" width="3" height="12.0" fill="#dc5156"/>
<line x1="978.24" x2="978.24" y1="122.0" y2="136.0" stroke="#3b6ddb" stroke-width="1.15"/>
<rect x="976.74" y="124.0" width="3" height="11.0" fill="#3b6ddb"/>
<line x1="982.36" x2="982.36" y1="126.0" y2="140.0" stroke="#dc5156" stroke-width="1.15"/>
<rect x="980.86" y="127.0" width="3" height="8.0" fill="#dc5156"/>
<line x1="986.49" x2="986.49" y1="112.0" y2="129.0" stroke="#dc5156" stroke-width="1.15"/>
<rect x="984.99" y="115.0" width="3" height="12.0" fill="#dc5156"/>
<line x1="990.61" x2="990.61" y1="111.0" y2="120.0" stroke="#3b6ddb" stroke-width="1.15"/>
<rect x="989.11" y="115.0" width="3" height="1.0" fill="#3b6ddb"/>
<line x1="994.74" x2="994.74" y1="105.0" y2="131.0" stroke="#3b6ddb" stroke-width="1.15"/>
<rect x="993.24" y="119.0" width="3" height="7.0" fill="#3b6ddb"/>
<line x1="998.87" x2="998.87" y1="117.0" y2="130.0" stroke="#dc5156" stroke-width="1.15"/>
<rect x="997.37" y="120.0" width="3" height="7.0" fill="#dc5156"/>
<line x1="1002.99" x2="1002.99" y1="116.0" y2="127.0" stroke="#dc5156" stroke-width="1.15"/>
<rect x="1001.49" y="117.0" width="3" height="5.0" fill="#dc5156"/>
<line x1="1007.12" x2="1007.12" y1="111.0" y2="125.0" stroke="#dc5156" stroke-width="1.15"/>
<rect x="1005.62" y="115.0" width="3" height="5.0" fill="#dc5156"/>
<line x1="1011.24" x2="1011.24" y1="86.0" y2="117.0" stroke="#dc5156" stroke-width="1.15"/>
<rect x="1009.74" y="91.0" width="3" height="25.0" fill="#dc5156"/>
<line x1="1015.37" x2="1015.37" y1="85.0" y2="96.0" stroke="#dc5156" stroke-width="1.15"/>
<rect x="1013.87" y="86.0" width="3" height="5.0" fill="#dc5156"/>
<line x1="1019.50" x2="1019.50" y1="62.0" y2="91.0" stroke="#dc5156" stroke-width="1.15"/>
<rect x="1018.00" y="64.0" width="3" height="23.0" fill="#dc5156"/>
<line x1="1023.62" x2="1023.62" y1="56.0" y2="86.0" stroke="#3b6ddb" stroke-width="1.15"/>
<rect x="1022.12" y="65.0" width="3" height="15.0" fill="#3b6ddb"/>
<line x1="1027.75" x2="1027.75" y1="70.0" y2="81.0" stroke="#dc5156" stroke-width="1.15"/>
<rect x="1026.25" y="74.0" width="3" height="6.0" fill="#dc5156"/>
<line x1="1031.87" x2="1031.87" y1="72.0" y2="94.0" stroke="#3b6ddb" stroke-width="1.15"/>
<rect x="1030.37" y="74.0" width="3" height="15.0" fill="#3b6ddb"/>
<line x1="1036.00" x2="1036.00" y1="85.0" y2="102.0" stroke="#dc5156" stroke-width="1.15"/>
<rect x="1034.50" y="86.0" width="3" height="10.0" fill="#dc5156"/>
<line x1="1040.13" x2="1040.13" y1="76.0" y2="101.0" stroke="#3b6ddb" stroke-width="1.15"/>
<rect x="1038.63" y="86.0" width="3" height="2.0" fill="#3b6ddb"/>
<line x1="1044.25" x2="1044.25" y1="77.0" y2="95.0" stroke="#dc5156" stroke-width="1.15"/>
<rect x="1042.75" y="82.0" width="3" height="5.0" fill="#dc5156"/>
<line x1="1048.38" x2="1048.38" y1="69.0" y2="87.0" stroke="#dc5156" stroke-width="1.15"/>
<rect x="1046.88" y="81.0" width="3" height="4.0" fill="#dc5156"/>
<line x1="1052.50" x2="1052.50" y1="61.0" y2="144.0" stroke="#3b6ddb" stroke-width="1.15"/>
<rect x="1051.00" y="81.0" width="3" height="59.0" fill="#3b6ddb"/>
<line x1="1056.63" x2="1056.63" y1="150.0" y2="196.0" stroke="#3b6ddb" stroke-width="1.15"/>
<rect x="1055.13" y="165.0" width="3" height="12.0" fill="#3b6ddb"/>
<line x1="1060.76" x2="1060.76" y1="161.0" y2="224.0" stroke="#3b6ddb" stroke-width="1.15"/>
<rect x="1059.26" y="177.0" width="3" height="45.0" fill="#3b6ddb"/>
<line x1="1064.88" x2="1064.88" y1="180.0" y2="222.0" stroke="#dc5156" stroke-width="1.15"/>
<rect x="1063.38" y="194.0" width="3" height="28.0" fill="#dc5156"/>
<line x1="1069.01" x2="1069.01" y1="191.0" y2="210.0" stroke="#3b6ddb" stroke-width="1.15"/>
<rect x="1067.51" y="194.0" width="3" height="7.0" fill="#3b6ddb"/>
<path d="M20.0,171.0 C22.5,171.1 30.0,171.3 35.0,171.5 C40.0,171.7 43.3,171.4 50.0,172.0 C56.7,172.6 68.8,173.8 75.0,175.0 C81.2,176.2 83.3,177.5 87.5,179.0 C91.7,180.5 95.8,182.2 100.0,184.0 C104.2,185.8 108.3,188.1 112.5,190.0 C116.7,191.9 120.8,194.0 125.0,195.5 C129.2,197.0 133.3,198.2 137.5,199.0 C141.7,199.8 145.8,200.2 150.0,200.5 C154.2,200.8 158.3,200.8 162.5,201.0 C166.7,201.2 170.8,201.0 175.0,201.5 C179.2,202.0 183.3,202.6 187.5,204.0 C191.7,205.4 195.8,207.2 200.0,210.0 C204.2,212.8 208.3,216.8 212.5,221.0 C216.7,225.2 220.8,229.8 225.0,235.0 C229.2,240.2 233.3,246.7 237.5,252.0 C241.7,257.3 245.8,262.3 250.0,267.0 C254.2,271.7 258.3,276.0 262.5,280.0 C266.7,284.0 270.8,287.3 275.0,291.0 C279.2,294.7 283.3,298.7 287.5,302.0 C291.7,305.3 296.7,308.7 300.0,311.0 C303.3,313.3 304.2,313.8 307.5,316.0 C310.8,318.2 315.8,321.2 320.0,324.0 C324.2,326.8 328.3,329.7 332.5,332.5 C336.7,335.3 340.8,338.2 345.0,341.0 C349.2,343.8 353.3,346.5 357.5,349.0 C361.7,351.5 365.8,353.8 370.0,356.0 C374.2,358.2 378.3,360.6 382.5,362.5 C386.7,364.4 390.8,366.1 395.0,367.5 C399.2,368.9 403.3,369.8 407.5,371.0 C411.7,372.2 415.8,373.8 420.0,375.0 C424.2,376.2 428.3,377.0 432.5,378.0 C436.7,379.0 440.8,379.8 445.0,381.0 C449.2,382.2 453.3,383.7 457.5,385.0 C461.7,386.3 465.8,388.0 470.0,389.0 C474.2,390.0 478.3,390.4 482.5,391.0 C486.7,391.6 490.8,392.3 495.0,392.5 C499.2,392.7 503.3,392.4 507.5,392.0 C511.7,391.6 515.8,391.3 520.0,390.0 C524.2,388.7 528.3,386.1 532.5,384.0 C536.7,381.9 540.8,379.2 545.0,377.5 C549.2,375.8 553.3,375.2 557.5,374.0 C561.7,372.8 565.4,371.4 570.0,370.0 C574.6,368.6 580.4,366.8 585.0,365.5 C589.6,364.2 592.5,362.9 597.5,362.0 C602.5,361.1 607.9,360.8 615.0,360.0 C622.1,359.2 631.7,358.5 640.0,357.0 C648.3,355.5 656.7,353.2 665.0,351.0 C673.3,348.8 681.7,346.2 690.0,344.0 C698.3,341.8 708.3,339.7 715.0,337.5 C721.7,335.3 725.8,333.1 730.0,331.0 C734.2,328.9 736.2,327.2 740.0,325.0 C743.8,322.8 748.3,319.6 752.5,317.5 C756.7,315.4 760.8,314.2 765.0,312.5 C769.2,310.8 773.3,309.2 777.5,307.5 C781.7,305.8 785.8,303.9 790.0,302.5 C794.2,301.1 798.3,300.1 802.5,299.0 C806.7,297.9 810.8,297.3 815.0,296.0 C819.2,294.7 823.3,292.8 827.5,291.0 C831.7,289.2 834.6,288.2 840.0,285.5 C845.4,282.8 853.3,278.3 860.0,274.5 C866.7,270.7 873.3,266.7 880.0,262.5 C886.7,258.3 894.2,253.2 900.0,249.5 C905.8,245.8 910.0,242.9 915.0,240.0 C920.0,237.1 925.4,234.5 930.0,232.0 C934.6,229.5 938.3,227.4 942.5,225.0 C946.7,222.6 950.8,220.2 955.0,217.5 C959.2,214.8 963.3,212.1 967.5,209.0 C971.7,205.9 975.8,202.2 980.0,199.0 C984.2,195.8 988.3,193.0 992.5,190.0 C996.7,187.0 1000.8,183.9 1005.0,181.0 C1009.2,178.1 1013.3,175.6 1017.5,172.5 C1021.7,169.4 1026.2,165.2 1030.0,162.5 C1033.8,159.8 1036.7,157.8 1040.0,156.0 C1043.3,154.2 1046.7,152.9 1050.0,152.0 C1053.3,151.1 1055.8,150.8 1060.0,150.5 C1064.2,150.2 1072.5,150.1 1075.0,150.0" fill="none" stroke="#f6e55c" stroke-width="3.2" stroke-linecap="round" stroke-linejoin="round"/>
<path d="M0.0,207.0 C4.2,207.3 16.7,208.3 25.0,209.0 C33.3,209.7 41.7,210.0 50.0,211.0 C58.3,212.0 66.7,213.7 75.0,215.0 C83.3,216.3 91.7,217.5 100.0,219.0 C108.3,220.5 116.7,222.3 125.0,224.0 C133.3,225.7 141.7,227.2 150.0,229.0 C158.3,230.8 168.3,233.3 175.0,235.0 C181.7,236.7 185.0,237.3 190.0,239.0 C195.0,240.7 200.8,243.2 205.0,245.0 C209.2,246.8 211.2,248.2 215.0,250.0 C218.8,251.8 223.3,253.5 227.5,255.5 C231.7,257.5 235.8,260.0 240.0,262.0 C244.2,264.0 248.3,265.8 252.5,267.5 C256.7,269.2 260.8,270.6 265.0,272.0 C269.2,273.4 273.3,274.8 277.5,276.0 C281.7,277.2 285.8,278.2 290.0,279.0 C294.2,279.8 297.5,280.1 302.5,280.5 C307.5,280.9 312.9,281.2 320.0,281.5 C327.1,281.8 336.7,282.1 345.0,282.5 C353.3,282.9 361.7,283.7 370.0,284.0 C378.3,284.3 386.7,284.5 395.0,284.5 C403.3,284.5 411.7,284.4 420.0,284.0 C428.3,283.6 436.7,282.6 445.0,282.0 C453.3,281.4 461.7,280.8 470.0,280.5 C478.3,280.2 486.7,280.1 495.0,280.0 C503.3,279.9 511.7,279.8 520.0,280.0 C528.3,280.2 537.5,280.7 545.0,281.5 C552.5,282.3 557.5,283.6 565.0,285.0 C572.5,286.4 581.7,288.3 590.0,290.0 C598.3,291.7 606.7,293.5 615.0,295.0 C623.3,296.5 631.7,297.9 640.0,299.0 C648.3,300.1 656.7,300.7 665.0,301.5 C673.3,302.3 681.7,303.0 690.0,304.0 C698.3,305.0 706.7,306.1 715.0,307.5 C723.3,308.9 731.7,310.8 740.0,312.5 C748.3,314.2 756.7,316.1 765.0,317.5 C773.3,318.9 781.7,320.1 790.0,321.0 C798.3,321.9 806.7,322.7 815.0,323.0 C823.3,323.3 831.7,323.2 840.0,323.0 C848.3,322.8 856.7,322.3 865.0,321.5 C873.3,320.7 881.7,319.2 890.0,318.0 C898.3,316.8 906.7,315.4 915.0,314.0 C923.3,312.6 932.1,310.9 940.0,309.3 C947.9,307.7 955.0,306.1 962.5,304.5 C970.0,302.9 977.5,301.3 985.0,300.0 C992.5,298.7 1000.0,298.3 1007.5,296.7 C1015.0,295.1 1022.5,292.8 1030.0,290.2 C1037.5,287.6 1045.1,283.8 1052.5,281.2 C1059.9,278.6 1070.6,275.6 1074.2,274.5" fill="none" stroke="#e6544c" stroke-width="3.2" stroke-linecap="round" stroke-linejoin="round"/>
<path d="M0.0,116.0 C1.3,117.0 5.1,119.7 8.0,122.0 C10.9,124.3 14.7,127.4 17.5,130.0 C20.3,132.6 21.2,133.3 25.0,137.5 C28.8,141.7 35.8,150.4 40.0,155.0 C44.2,159.6 46.2,160.8 50.0,165.0 C53.8,169.2 58.3,174.6 62.5,180.0 C66.7,185.4 70.8,191.7 75.0,197.5 C79.2,203.3 83.3,209.4 87.5,215.0 C91.7,220.6 95.8,225.0 100.0,231.0 C104.2,237.0 108.3,245.3 112.5,251.0 C116.7,256.7 120.8,260.8 125.0,265.0 C129.2,269.2 133.3,273.0 137.5,276.5 C141.7,280.0 145.8,283.6 150.0,286.0 C154.2,288.4 158.3,290.2 162.5,291.0 C166.7,291.8 171.1,290.7 175.0,290.5 C178.9,290.3 183.5,289.7 186.0,290.0 C188.5,290.3 188.1,291.2 190.0,292.5 C191.9,293.8 194.6,295.8 197.5,297.5 C200.4,299.2 204.6,300.5 207.5,302.5 C210.4,304.5 212.1,307.0 215.0,309.5 C217.9,312.0 221.2,313.1 225.0,317.5 C228.8,321.9 233.3,330.4 237.5,336.0 C241.7,341.6 245.8,344.9 250.0,351.0 C254.2,357.1 259.2,366.8 262.5,372.5 C265.8,378.2 267.9,381.2 270.0,385.0 C272.1,388.8 272.9,391.5 275.0,395.0 C277.1,398.5 280.0,403.1 282.5,406.0 C285.0,408.9 287.1,411.2 290.0,412.5 C292.9,413.8 296.7,414.0 300.0,414.0 C303.3,414.0 306.7,413.2 310.0,412.5 C313.3,411.8 316.2,411.2 320.0,410.0 C323.8,408.8 328.3,407.1 332.5,405.0 C336.7,402.9 341.2,399.2 345.0,397.5 C348.8,395.8 350.8,395.6 355.0,395.0 C359.2,394.4 365.4,394.1 370.0,394.0 C374.6,393.9 378.3,394.2 382.5,394.5 C386.7,394.8 391.2,394.8 395.0,395.5 C398.8,396.2 401.7,397.8 405.0,399.0 C408.3,400.2 411.7,402.2 415.0,402.5 C418.3,402.8 421.7,401.6 425.0,401.0 C428.3,400.4 431.7,399.7 435.0,399.0 C438.3,398.3 441.7,397.2 445.0,397.0 C448.3,396.8 452.1,397.2 455.0,397.5 C457.9,397.8 460.4,399.4 462.5,399.0 C464.6,398.6 465.4,396.7 467.5,395.0 C469.6,393.3 472.5,391.1 475.0,389.0 C477.5,386.9 480.0,384.4 482.5,382.5 C485.0,380.6 487.1,380.0 490.0,377.5 C492.9,375.0 496.7,370.2 500.0,367.5 C503.3,364.8 506.7,362.7 510.0,361.0 C513.3,359.3 516.7,358.9 520.0,357.5 C523.3,356.1 526.7,354.8 530.0,352.5 C533.3,350.2 537.1,346.2 540.0,344.0 C542.9,341.8 545.0,341.0 547.5,339.0 C550.0,337.0 552.1,334.2 555.0,332.0 C557.9,329.8 562.2,327.2 565.0,325.5 C567.8,323.8 569.5,323.0 572.0,322.0 C574.5,321.0 577.0,319.9 580.0,319.5 C583.0,319.1 586.2,319.3 590.0,319.5 C593.8,319.7 598.3,320.2 602.5,320.5 C606.7,320.8 610.8,320.8 615.0,321.0 C619.2,321.2 623.3,321.4 627.5,322.0 C631.7,322.6 636.2,323.5 640.0,324.5 C643.8,325.5 645.8,327.5 650.0,328.0 C654.2,328.5 660.0,327.5 665.0,327.5 C670.0,327.5 675.0,328.0 680.0,328.0 C685.0,328.0 690.8,328.1 695.0,327.5 C699.2,326.9 701.7,325.4 705.0,324.5 C708.3,323.6 711.2,322.6 715.0,322.0 C718.8,321.4 724.2,321.8 727.5,321.0 C730.8,320.2 732.9,318.7 735.0,317.5 C737.1,316.3 737.9,315.7 740.0,314.0 C742.1,312.3 745.0,309.8 747.5,307.5 C750.0,305.2 752.1,302.9 755.0,300.0 C757.9,297.1 762.1,292.5 765.0,290.0 C767.9,287.5 770.0,286.7 772.5,285.0 C775.0,283.3 777.1,282.3 780.0,280.0 C782.9,277.7 786.7,274.3 790.0,271.0 C793.3,267.7 796.7,263.9 800.0,260.0 C803.3,256.1 806.7,251.5 810.0,247.5 C813.3,243.5 816.7,239.9 820.0,236.0 C823.3,232.1 827.1,227.5 830.0,224.0 C832.9,220.5 834.2,218.0 837.5,215.0 C840.8,212.0 845.8,208.9 850.0,206.0 C854.2,203.1 858.8,200.8 862.5,197.5 C866.2,194.2 869.2,189.9 872.5,186.0 C875.8,182.1 879.2,177.9 882.5,174.0 C885.8,170.1 888.8,165.7 892.5,162.5 C896.2,159.3 900.8,157.1 905.0,155.0 C909.2,152.9 913.3,151.7 917.5,150.0 C921.7,148.3 925.8,146.7 930.0,145.0 C934.2,143.3 938.3,141.2 942.5,140.0 C946.7,138.8 951.2,138.5 955.0,137.5 C958.8,136.5 960.8,134.4 965.0,134.0 C969.2,133.6 975.4,135.0 980.0,135.0 C984.6,135.0 988.3,134.4 992.5,134.0 C996.7,133.6 1001.2,133.8 1005.0,132.5 C1008.8,131.2 1011.7,128.1 1015.0,126.0 C1018.3,123.9 1021.7,121.8 1025.0,120.0 C1028.3,118.2 1031.7,116.7 1035.0,115.0 C1038.3,113.3 1042.3,111.3 1045.0,110.0 C1047.7,108.7 1049.3,107.3 1051.0,107.0 C1052.7,106.7 1053.1,106.7 1055.0,108.0 C1056.9,109.3 1059.3,112.6 1062.5,115.0 C1065.7,117.4 1072.1,121.2 1074.0,122.5" fill="none" stroke="#345fe2" stroke-width="3.3" stroke-linecap="round" stroke-linejoin="round"/>
<circle cx="45.2" cy="190" r="4.1" fill="#fff" stroke="#27348f" stroke-width="1.1"/>
<circle cx="198" cy="347.5" r="4.1" fill="#fff" stroke="#27348f" stroke-width="1.1"/>
<circle cx="351" cy="394.5" r="4.1" fill="#fff" stroke="#27348f" stroke-width="1.1"/>
<circle cx="504" cy="301" r="4.1" fill="#fff" stroke="#27348f" stroke-width="1.1"/>
<circle cx="656.5" cy="329.5" r="4.1" fill="#fff" stroke="#27348f" stroke-width="1.1"/>
<circle cx="809" cy="193.5" r="4.1" fill="#fff" stroke="#27348f" stroke-width="1.1"/>
<circle cx="962.5" cy="104.5" r="4.1" fill="#fff" stroke="#27348f" stroke-width="1.1"/>
</g>
<g clip-path="url(#macdclip)">
<rect x="3.00" y="609.3" width="3" height="12.5" fill="#3d6ddd"/>
<rect x="7.13" y="609.3" width="3" height="11.2" fill="#bcd3f5"/>
<rect x="11.25" y="609.3" width="3" height="10.0" fill="#bcd3f5"/>
<rect x="15.38" y="609.3" width="3" height="11.2" fill="#3d6ddd"/>
<rect x="19.50" y="609.3" width="3" height="10.0" fill="#bcd3f5"/>
<rect x="23.63" y="609.3" width="3" height="16.2" fill="#3d6ddd"/>
<rect x="27.76" y="609.3" width="3" height="18.8" fill="#3d6ddd"/>
<rect x="31.88" y="609.3" width="3" height="17.5" fill="#bcd3f5"/>
<rect x="36.01" y="609.3" width="3" height="13.8" fill="#bcd3f5"/>
<rect x="40.13" y="609.3" width="3" height="11.2" fill="#bcd3f5"/>
<rect x="44.26" y="609.3" width="3" height="7.5" fill="#bcd3f5"/>
<rect x="48.39" y="609.3" width="3" height="5.0" fill="#bcd3f5"/>
<rect x="52.51" y="609.3" width="3" height="3.8" fill="#bcd3f5"/>
<rect x="56.64" y="609.3" width="3" height="6.2" fill="#3d6ddd"/>
<rect x="60.76" y="609.3" width="3" height="5.0" fill="#bcd3f5"/>
<rect x="64.89" y="609.3" width="3" height="11.2" fill="#bcd3f5"/>
<rect x="69.02" y="609.3" width="3" height="8.8" fill="#3d6ddd"/>
<rect x="73.14" y="609.3" width="3" height="11.2" fill="#3d6ddd"/>
<rect x="77.27" y="609.3" width="3" height="10.0" fill="#bcd3f5"/>
<rect x="81.39" y="609.3" width="3" height="10.0" fill="#3d6ddd"/>
<rect x="85.52" y="609.3" width="3" height="7.5" fill="#bcd3f5"/>
<rect x="89.65" y="609.3" width="3" height="5.0" fill="#bcd3f5"/>
<rect x="93.77" y="609.3" width="3" height="3.0" fill="#bcd3f5"/>
<rect x="97.90" y="609.3" width="3" height="1.2" fill="#bcd3f5"/>
<rect x="102.02" y="609.3" width="3" height="0.8" fill="#3d6ddd"/>
<rect x="106.15" y="609.3" width="3" height="1.2" fill="#3d6ddd"/>
<rect x="110.28" y="609.3" width="3" height="2.5" fill="#3d6ddd"/>
<rect x="114.40" y="609.3" width="3" height="3.8" fill="#3d6ddd"/>
<rect x="118.53" y="609.3" width="3" height="5.0" fill="#3d6ddd"/>
<rect x="122.65" y="609.3" width="3" height="3.8" fill="#bcd3f5"/>
<rect x="126.78" y="609.3" width="3" height="2.0" fill="#bcd3f5"/>
<rect x="130.91" y="609.3" width="3" height="0.8" fill="#bcd3f5"/>
<rect x="135.03" y="605.5" width="3" height="3.8" fill="#d9534f"/>
<rect x="139.16" y="603.0" width="3" height="6.2" fill="#d9534f"/>
<rect x="143.28" y="601.8" width="3" height="7.5" fill="#d9534f"/>
<rect x="147.41" y="601.3" width="3" height="8.0" fill="#d9534f"/>
<rect x="151.54" y="601.0" width="3" height="8.2" fill="#d9534f"/>
<rect x="155.66" y="599.8" width="3" height="9.5" fill="#d9534f"/>
<rect x="159.79" y="596.8" width="3" height="12.5" fill="#d9534f"/>
<rect x="163.91" y="595.5" width="3" height="13.8" fill="#d9534f"/>
<rect x="168.04" y="594.8" width="3" height="14.5" fill="#d9534f"/>
<rect x="172.17" y="593.8" width="3" height="15.5" fill="#d9534f"/>
<rect x="176.29" y="596.3" width="3" height="13.0" fill="#f6c6c6"/>
<rect x="180.42" y="598.0" width="3" height="11.2" fill="#f6c6c6"/>
<rect x="184.54" y="600.5" width="3" height="8.8" fill="#f6c6c6"/>
<rect x="188.67" y="603.8" width="3" height="5.5" fill="#f6c6c6"/>
<rect x="192.80" y="609.3" width="3" height="2.0" fill="#3d6ddd"/>
<rect x="196.92" y="609.3" width="3" height="5.5" fill="#3d6ddd"/>
<rect x="201.05" y="609.3" width="3" height="2.5" fill="#bcd3f5"/>
<rect x="205.17" y="609.3" width="3" height="7.5" fill="#3d6ddd"/>
<rect x="209.30" y="609.3" width="3" height="5.0" fill="#bcd3f5"/>
<rect x="213.43" y="609.3" width="3" height="11.2" fill="#3d6ddd"/>
<rect x="217.55" y="609.3" width="3" height="16.2" fill="#3d6ddd"/>
<rect x="221.68" y="609.3" width="3" height="18.8" fill="#3d6ddd"/>
<rect x="225.80" y="609.3" width="3" height="17.5" fill="#bcd3f5"/>
<rect x="229.93" y="609.3" width="3" height="21.2" fill="#3d6ddd"/>
<rect x="234.06" y="609.3" width="3" height="20.0" fill="#bcd3f5"/>
<rect x="238.18" y="609.3" width="3" height="18.0" fill="#bcd3f5"/>
<rect x="242.31" y="609.3" width="3" height="17.5" fill="#3d6ddd"/>
<rect x="246.43" y="609.3" width="3" height="13.8" fill="#bcd3f5"/>
<rect x="250.56" y="609.3" width="3" height="8.8" fill="#bcd3f5"/>
<rect x="254.69" y="609.3" width="3" height="3.8" fill="#bcd3f5"/>
<rect x="258.81" y="608.0" width="3" height="1.2" fill="#d9534f"/>
<rect x="262.94" y="607.3" width="3" height="2.0" fill="#d9534f"/>
<rect x="267.06" y="605.5" width="3" height="3.8" fill="#d9534f"/>
<rect x="271.19" y="603.8" width="3" height="5.5" fill="#d9534f"/>
<rect x="275.32" y="598.0" width="3" height="11.2" fill="#d9534f"/>
<rect x="279.44" y="593.8" width="3" height="15.5" fill="#d9534f"/>
<rect x="283.57" y="595.5" width="3" height="13.8" fill="#f6c6c6"/>
<rect x="287.69" y="598.0" width="3" height="11.2" fill="#f6c6c6"/>
<rect x="291.82" y="598.0" width="3" height="11.2" fill="#d9534f"/>
<rect x="295.95" y="594.3" width="3" height="15.0" fill="#d9534f"/>
<rect x="300.07" y="585.5" width="3" height="23.8" fill="#f6c6c6"/>
<rect x="304.20" y="584.3" width="3" height="25.0" fill="#d9534f"/>
<rect x="308.32" y="583.0" width="3" height="26.2" fill="#d9534f"/>
<rect x="312.45" y="589.3" width="3" height="20.0" fill="#f6c6c6"/>
<rect x="316.58" y="594.3" width="3" height="15.0" fill="#f6c6c6"/>
<rect x="320.70" y="598.0" width="3" height="11.2" fill="#f6c6c6"/>
<rect x="324.83" y="601.8" width="3" height="7.5" fill="#f6c6c6"/>
<rect x="328.95" y="605.5" width="3" height="3.8" fill="#f6c6c6"/>
<rect x="333.08" y="608.0" width="3" height="1.2" fill="#f6c6c6"/>
<rect x="337.21" y="609.3" width="3" height="2.0" fill="#3d6ddd"/>
<rect x="341.33" y="609.3" width="3" height="5.0" fill="#3d6ddd"/>
<rect x="345.46" y="609.3" width="3" height="7.0" fill="#3d6ddd"/>
<rect x="349.58" y="609.3" width="3" height="2.5" fill="#bcd3f5"/>
<rect x="353.71" y="609.3" width="3" height="1.2" fill="#bcd3f5"/>
<rect x="357.84" y="609.3" width="3" height="0.8" fill="#bcd3f5"/>
<rect x="361.96" y="609.3" width="3" height="0.8" fill="#bcd3f5"/>
<rect x="366.09" y="609.3" width="3" height="3.8" fill="#3d6ddd"/>
<rect x="370.21" y="609.3" width="3" height="1.2" fill="#bcd3f5"/>
<rect x="374.34" y="609.3" width="3" height="3.8" fill="#3d6ddd"/>
<rect x="378.47" y="609.3" width="3" height="2.0" fill="#bcd3f5"/>
<rect x="382.59" y="608.0" width="3" height="1.2" fill="#d9534f"/>
<rect x="386.72" y="606.3" width="3" height="3.0" fill="#d9534f"/>
<rect x="390.84" y="604.3" width="3" height="5.0" fill="#d9534f"/>
<rect x="394.97" y="604.3" width="3" height="5.0" fill="#d9534f"/>
<rect x="399.10" y="606.3" width="3" height="3.0" fill="#f6c6c6"/>
<rect x="403.22" y="607.3" width="3" height="2.0" fill="#f6c6c6"/>
<rect x="407.35" y="604.8" width="3" height="4.5" fill="#d9534f"/>
<rect x="411.47" y="603.8" width="3" height="5.5" fill="#d9534f"/>
<rect x="415.60" y="603.0" width="3" height="6.2" fill="#d9534f"/>
<rect x="419.73" y="601.8" width="3" height="7.5" fill="#d9534f"/>
<rect x="423.85" y="599.8" width="3" height="9.5" fill="#d9534f"/>
<rect x="427.98" y="599.3" width="3" height="10.0" fill="#d9534f"/>
<rect x="432.10" y="603.0" width="3" height="6.2" fill="#f6c6c6"/>
<rect x="436.23" y="605.5" width="3" height="3.8" fill="#f6c6c6"/>
<rect x="440.36" y="607.3" width="3" height="2.0" fill="#f6c6c6"/>
<rect x="444.48" y="608.5" width="3" height="0.8" fill="#f6c6c6"/>
<rect x="448.61" y="609.3" width="3" height="1.2" fill="#3d6ddd"/>
<rect x="452.73" y="609.3" width="3" height="3.8" fill="#3d6ddd"/>
<rect x="456.86" y="609.3" width="3" height="5.5" fill="#3d6ddd"/>
<rect x="460.99" y="609.3" width="3" height="2.5" fill="#bcd3f5"/>
<rect x="465.11" y="609.3" width="3" height="0.8" fill="#bcd3f5"/>
<rect x="469.24" y="606.8" width="3" height="2.5" fill="#d9534f"/>
<rect x="473.36" y="603.8" width="3" height="5.5" fill="#d9534f"/>
<rect x="477.49" y="603.0" width="3" height="6.2" fill="#d9534f"/>
<rect x="481.62" y="602.3" width="3" height="7.0" fill="#d9534f"/>
<rect x="485.74" y="599.8" width="3" height="9.5" fill="#d9534f"/>
<rect x="489.87" y="598.0" width="3" height="11.2" fill="#d9534f"/>
<rect x="493.99" y="594.8" width="3" height="14.5" fill="#d9534f"/>
<rect x="498.12" y="596.3" width="3" height="13.0" fill="#f6c6c6"/>
<rect x="502.25" y="596.8" width="3" height="12.5" fill="#d9534f"/>
<rect x="506.37" y="597.3" width="3" height="12.0" fill="#f6c6c6"/>
<rect x="510.50" y="601.3" width="3" height="8.0" fill="#f6c6c6"/>
<rect x="514.62" y="605.5" width="3" height="3.8" fill="#f6c6c6"/>
<rect x="518.75" y="608.0" width="3" height="1.2" fill="#f6c6c6"/>
<rect x="522.88" y="609.3" width="3" height="2.0" fill="#3d6ddd"/>
<rect x="527.00" y="609.3" width="3" height="0.8" fill="#bcd3f5"/>
<rect x="531.13" y="608.5" width="3" height="0.8" fill="#d9534f"/>
<rect x="535.25" y="608.0" width="3" height="1.2" fill="#d9534f"/>
<rect x="539.38" y="605.5" width="3" height="3.8" fill="#d9534f"/>
<rect x="543.51" y="601.8" width="3" height="7.5" fill="#d9534f"/>
<rect x="547.63" y="608.0" width="3" height="1.2" fill="#f6c6c6"/>
<rect x="551.76" y="609.3" width="3" height="2.5" fill="#3d6ddd"/>
<rect x="555.88" y="609.3" width="3" height="4.5" fill="#3d6ddd"/>
<rect x="560.01" y="609.3" width="3" height="6.2" fill="#3d6ddd"/>
<rect x="564.14" y="609.3" width="3" height="7.0" fill="#3d6ddd"/>
<rect x="568.26" y="609.3" width="3" height="6.2" fill="#bcd3f5"/>
<rect x="572.39" y="609.3" width="3" height="5.5" fill="#bcd3f5"/>
<rect x="576.51" y="609.3" width="3" height="5.0" fill="#bcd3f5"/>
<rect x="580.64" y="609.3" width="3" height="5.5" fill="#3d6ddd"/>
<rect x="584.77" y="609.3" width="3" height="5.0" fill="#bcd3f5"/>
<rect x="588.89" y="609.3" width="3" height="6.2" fill="#3d6ddd"/>
<rect x="593.02" y="609.3" width="3" height="3.8" fill="#bcd3f5"/>
<rect x="597.14" y="609.3" width="3" height="4.5" fill="#bcd3f5"/>
<rect x="601.27" y="609.3" width="3" height="5.0" fill="#3d6ddd"/>
<rect x="605.40" y="609.3" width="3" height="3.0" fill="#bcd3f5"/>
<rect x="609.52" y="609.3" width="3" height="4.5" fill="#3d6ddd"/>
<rect x="613.65" y="609.3" width="3" height="3.0" fill="#bcd3f5"/>
<rect x="617.77" y="609.3" width="3" height="3.8" fill="#3d6ddd"/>
<rect x="621.90" y="609.3" width="3" height="2.5" fill="#bcd3f5"/>
<rect x="626.03" y="609.3" width="3" height="5.0" fill="#3d6ddd"/>
<rect x="630.15" y="609.3" width="3" height="5.0" fill="#3d6ddd"/>
<rect x="634.28" y="609.3" width="3" height="3.0" fill="#bcd3f5"/>
<rect x="638.40" y="609.3" width="3" height="0.6" fill="#bcd3f5"/>
<rect x="642.53" y="608.0" width="3" height="1.2" fill="#d9534f"/>
<rect x="646.66" y="607.3" width="3" height="2.0" fill="#d9534f"/>
<rect x="650.78" y="608.8" width="3" height="0.6" fill="#f6c6c6"/>
<rect x="654.91" y="609.3" width="3" height="0.6" fill="#3d6ddd"/>
<rect x="659.03" y="609.3" width="3" height="0.8" fill="#3d6ddd"/>
<rect x="663.16" y="609.3" width="3" height="1.2" fill="#3d6ddd"/>
<rect x="667.29" y="609.3" width="3" height="2.0" fill="#3d6ddd"/>
<rect x="671.41" y="609.3" width="3" height="0.8" fill="#bcd3f5"/>
<rect x="675.54" y="609.3" width="3" height="0.8" fill="#bcd3f5"/>
<rect x="679.66" y="609.3" width="3" height="2.5" fill="#3d6ddd"/>
<rect x="683.79" y="609.3" width="3" height="3.0" fill="#3d6ddd"/>
<rect x="687.92" y="609.3" width="3" height="1.2" fill="#bcd3f5"/>
<rect x="692.04" y="608.8" width="3" height="0.6" fill="#f6c6c6"/>
<rect x="696.17" y="608.0" width="3" height="1.2" fill="#f6c6c6"/>
<rect x="700.29" y="607.3" width="3" height="2.0" fill="#d9534f"/>
<rect x="704.42" y="604.8" width="3" height="4.5" fill="#d9534f"/>
<rect x="708.55" y="602.3" width="3" height="7.0" fill="#d9534f"/>
<rect x="712.67" y="601.3" width="3" height="8.0" fill="#d9534f"/>
<rect x="716.80" y="603.0" width="3" height="6.2" fill="#f6c6c6"/>
<rect x="720.92" y="606.3" width="3" height="3.0" fill="#f6c6c6"/>
<rect x="725.05" y="609.3" width="3" height="1.2" fill="#3d6ddd"/>
<rect x="729.18" y="609.3" width="3" height="3.0" fill="#3d6ddd"/>
<rect x="733.30" y="609.3" width="3" height="3.8" fill="#3d6ddd"/>
<rect x="737.43" y="606.8" width="3" height="2.5" fill="#d9534f"/>
<rect x="741.55" y="599.8" width="3" height="9.5" fill="#d9534f"/>
<rect x="745.68" y="594.8" width="3" height="14.5" fill="#d9534f"/>
<rect x="749.81" y="591.3" width="3" height="18.0" fill="#d9534f"/>
<rect x="753.93" y="593.8" width="3" height="15.5" fill="#f6c6c6"/>
<rect x="758.06" y="594.3" width="3" height="15.0" fill="#f6c6c6"/>
<rect x="762.18" y="598.0" width="3" height="11.2" fill="#f6c6c6"/>
<rect x="766.31" y="601.3" width="3" height="8.0" fill="#f6c6c6"/>
<rect x="770.44" y="605.5" width="3" height="3.8" fill="#f6c6c6"/>
<rect x="774.56" y="608.0" width="3" height="1.2" fill="#f6c6c6"/>
<rect x="778.69" y="609.3" width="3" height="0.8" fill="#3d6ddd"/>
<rect x="782.81" y="608.8" width="3" height="0.6" fill="#d9534f"/>
<rect x="786.94" y="608.0" width="3" height="1.2" fill="#d9534f"/>
<rect x="791.07" y="607.3" width="3" height="2.0" fill="#d9534f"/>
<rect x="795.19" y="606.3" width="3" height="3.0" fill="#d9534f"/>
<rect x="799.32" y="605.5" width="3" height="3.8" fill="#d9534f"/>
<rect x="803.44" y="608.0" width="3" height="1.2" fill="#f6c6c6"/>
<rect x="807.57" y="608.8" width="3" height="0.6" fill="#f6c6c6"/>
<rect x="811.70" y="606.3" width="3" height="3.0" fill="#d9534f"/>
<rect x="815.82" y="604.8" width="3" height="4.5" fill="#d9534f"/>
<rect x="819.95" y="604.8" width="3" height="4.5" fill="#d9534f"/>
<rect x="824.07" y="606.3" width="3" height="3.0" fill="#f6c6c6"/>
<rect x="828.20" y="606.8" width="3" height="2.5" fill="#f6c6c6"/>
<rect x="832.33" y="608.8" width="3" height="0.6" fill="#f6c6c6"/>
<rect x="836.45" y="609.3" width="3" height="1.2" fill="#3d6ddd"/>
<rect x="840.58" y="609.3" width="3" height="0.6" fill="#bcd3f5"/>
<rect x="844.70" y="609.3" width="3" height="0.8" fill="#3d6ddd"/>
<rect x="848.83" y="609.3" width="3" height="0.6" fill="#bcd3f5"/>
<rect x="852.96" y="609.3" width="3" height="0.6" fill="#3d6ddd"/>
<rect x="857.08" y="609.3" width="3" height="0.8" fill="#3d6ddd"/>
<rect x="861.21" y="609.3" width="3" height="0.6" fill="#bcd3f5"/>
<rect x="865.33" y="608.5" width="3" height="0.8" fill="#d9534f"/>
<rect x="869.46" y="604.8" width="3" height="4.5" fill="#d9534f"/>
<rect x="873.59" y="602.3" width="3" height="7.0" fill="#d9534f"/>
<rect x="877.71" y="603.8" width="3" height="5.5" fill="#f6c6c6"/>
<rect x="881.84" y="604.8" width="3" height="4.5" fill="#f6c6c6"/>
<rect x="885.96" y="607.3" width="3" height="2.0" fill="#f6c6c6"/>
<rect x="890.09" y="608.8" width="3" height="0.6" fill="#f6c6c6"/>
<rect x="894.22" y="609.3" width="3" height="0.8" fill="#3d6ddd"/>
<rect x="898.34" y="609.3" width="3" height="2.0" fill="#3d6ddd"/>
<rect x="902.47" y="609.3" width="3" height="4.8" fill="#3d6ddd"/>
<rect x="906.59" y="609.3" width="3" height="5.9" fill="#3d6ddd"/>
<rect x="910.72" y="609.3" width="3" height="7.5" fill="#3d6ddd"/>
<rect x="914.85" y="609.3" width="3" height="9.3" fill="#3d6ddd"/>
<rect x="918.97" y="609.3" width="3" height="10.1" fill="#3d6ddd"/>
<rect x="923.10" y="609.3" width="3" height="8.5" fill="#bcd3f5"/>
<rect x="927.22" y="609.3" width="3" height="6.7" fill="#bcd3f5"/>
<rect x="931.35" y="609.3" width="3" height="5.3" fill="#bcd3f5"/>
<rect x="935.48" y="609.3" width="3" height="5.9" fill="#3d6ddd"/>
<rect x="939.60" y="609.3" width="3" height="4.8" fill="#bcd3f5"/>
<rect x="943.73" y="609.3" width="3" height="7.5" fill="#3d6ddd"/>
<rect x="947.85" y="609.3" width="3" height="9.3" fill="#3d6ddd"/>
<rect x="951.98" y="609.3" width="3" height="8.0" fill="#bcd3f5"/>
<rect x="956.11" y="609.3" width="3" height="6.7" fill="#bcd3f5"/>
<rect x="960.23" y="609.3" width="3" height="2.1" fill="#bcd3f5"/>
<rect x="964.36" y="609.3" width="3" height="0.6" fill="#bcd3f5"/>
<rect x="968.48" y="609.3" width="3" height="0.8" fill="#3d6ddd"/>
<rect x="972.61" y="609.3" width="3" height="0.6" fill="#bcd3f5"/>
<rect x="976.74" y="609.3" width="3" height="1.3" fill="#3d6ddd"/>
<rect x="980.86" y="609.3" width="3" height="2.1" fill="#3d6ddd"/>
<rect x="984.99" y="609.3" width="3" height="1.3" fill="#bcd3f5"/>
<rect x="989.11" y="609.3" width="3" height="0.6" fill="#bcd3f5"/>
<rect x="993.24" y="609.3" width="3" height="0.6" fill="#bcd3f5"/>
<rect x="997.37" y="609.3" width="3" height="0.8" fill="#3d6ddd"/>
<rect x="1001.49" y="609.3" width="3" height="0.8" fill="#bcd3f5"/>
<rect x="1005.62" y="609.3" width="3" height="0.8" fill="#3d6ddd"/>
<rect x="1009.74" y="609.3" width="3" height="0.6" fill="#bcd3f5"/>
<rect x="1013.87" y="607.2" width="3" height="2.1" fill="#d9534f"/>
<rect x="1018.00" y="605.3" width="3" height="4.0" fill="#d9534f"/>
<rect x="1022.12" y="603.4" width="3" height="5.9" fill="#d9534f"/>
<rect x="1026.25" y="603.4" width="3" height="5.9" fill="#f6c6c6"/>
<rect x="1030.37" y="604.5" width="3" height="4.8" fill="#f6c6c6"/>
<rect x="1034.50" y="605.3" width="3" height="4.0" fill="#f6c6c6"/>
<rect x="1038.63" y="606.6" width="3" height="2.7" fill="#f6c6c6"/>
<rect x="1042.75" y="608.0" width="3" height="1.3" fill="#f6c6c6"/>
<rect x="1046.88" y="608.5" width="3" height="0.8" fill="#f6c6c6"/>
<rect x="1051.00" y="608.8" width="3" height="0.6" fill="#f6c6c6"/>
<rect x="1055.13" y="609.3" width="3" height="6.7" fill="#3d6ddd"/>
<rect x="1059.26" y="609.3" width="3" height="13.3" fill="#3d6ddd"/>
<rect x="1063.38" y="609.3" width="3" height="21.3" fill="#3d6ddd"/>
<rect x="1067.51" y="609.3" width="3" height="22.7" fill="#3d6ddd"/>
<rect x="1071.63" y="609.3" width="3" height="23.5" fill="#3d6ddd"/>
<rect x="1075.76" y="609.3" width="3" height="22.7" fill="#bcd3f5"/>
<path d="M0.0,599.0 C1.2,599.8 5.0,602.2 7.5,604.0 C10.0,605.8 12.1,607.5 15.0,610.0 C17.9,612.5 21.7,616.1 25.0,619.0 C28.3,621.9 31.7,625.0 35.0,627.5 C38.3,630.0 41.7,632.3 45.0,634.0 C48.3,635.7 51.7,636.1 55.0,637.5 C58.3,638.9 61.7,640.6 65.0,642.5 C68.3,644.4 71.7,647.2 75.0,649.0 C78.3,650.8 81.7,652.1 85.0,653.0 C88.3,653.9 91.7,654.2 95.0,654.5 C98.3,654.8 101.7,654.6 105.0,655.0 C108.3,655.4 111.7,656.5 115.0,657.0 C118.3,657.5 122.1,658.2 125.0,658.0 C127.9,657.8 130.0,656.9 132.5,656.0 C135.0,655.1 137.1,654.2 140.0,652.5 C142.9,650.8 146.7,648.5 150.0,646.0 C153.3,643.5 156.7,640.3 160.0,637.5 C163.3,634.7 167.1,631.2 170.0,629.0 C172.9,626.8 175.0,625.2 177.5,624.0 C180.0,622.8 182.5,622.0 185.0,622.0 C187.5,622.0 190.0,623.1 192.5,624.0 C195.0,624.9 197.1,625.7 200.0,627.5 C202.9,629.3 206.7,631.9 210.0,635.0 C213.3,638.1 216.7,642.2 220.0,646.0 C223.3,649.8 226.7,654.3 230.0,657.5 C233.3,660.7 236.7,663.0 240.0,665.0 C243.3,667.0 246.7,668.7 250.0,669.5 C253.3,670.3 256.7,670.3 260.0,670.0 C263.3,669.7 266.7,669.2 270.0,667.5 C273.3,665.8 276.7,662.9 280.0,660.0 C283.3,657.1 286.7,653.3 290.0,650.0 C293.3,646.7 297.5,643.8 300.0,640.0 C302.5,636.2 303.3,630.8 305.0,627.5 C306.7,624.2 307.9,622.2 310.0,620.0 C312.1,617.8 315.0,615.5 317.5,614.0 C320.0,612.5 322.5,611.3 325.0,611.0 C327.5,610.7 330.0,611.3 332.5,612.0 C335.0,612.7 337.1,614.0 340.0,615.0 C342.9,616.0 346.7,617.2 350.0,618.0 C353.3,618.8 356.7,619.0 360.0,619.5 C363.3,620.0 367.1,620.8 370.0,621.0 C372.9,621.2 375.0,621.2 377.5,621.0 C380.0,620.8 382.1,620.3 385.0,619.5 C387.9,618.7 391.7,616.9 395.0,616.0 C398.3,615.1 401.7,615.0 405.0,614.0 C408.3,613.0 411.7,611.4 415.0,610.0 C418.3,608.6 422.1,606.7 425.0,605.5 C427.9,604.3 430.0,603.4 432.5,603.0 C435.0,602.6 437.1,602.6 440.0,603.0 C442.9,603.4 446.7,604.7 450.0,605.5 C453.3,606.3 457.1,607.8 460.0,608.0 C462.9,608.2 465.0,607.7 467.5,607.0 C470.0,606.3 472.1,605.3 475.0,604.0 C477.9,602.7 481.7,601.2 485.0,599.0 C488.3,596.8 491.7,593.3 495.0,591.0 C498.3,588.7 502.1,586.3 505.0,585.0 C507.9,583.7 510.0,583.3 512.5,583.0 C515.0,582.7 517.1,583.0 520.0,583.0 C522.9,583.0 526.7,583.3 530.0,583.0 C533.3,582.7 537.3,581.4 540.0,581.0 C542.7,580.6 543.9,580.2 546.0,580.5 C548.1,580.8 549.8,581.4 552.5,582.5 C555.2,583.6 558.8,585.6 562.5,587.0 C566.2,588.4 570.8,589.7 575.0,591.0 C579.2,592.3 583.3,593.8 587.5,595.0 C591.7,596.2 595.8,597.0 600.0,598.0 C604.2,599.0 608.3,599.9 612.5,601.0 C616.7,602.1 620.8,603.8 625.0,604.5 C629.2,605.2 633.3,605.3 637.5,605.5 C641.7,605.7 645.8,605.3 650.0,605.5 C654.2,605.7 658.3,606.1 662.5,606.5 C666.7,606.9 670.8,607.6 675.0,608.0 C679.2,608.4 683.3,609.2 687.5,609.0 C691.7,608.8 696.2,607.8 700.0,607.0 C703.8,606.2 706.7,604.8 710.0,604.0 C713.3,603.2 716.7,602.2 720.0,602.0 C723.3,601.8 727.1,603.2 730.0,603.0 C732.9,602.8 735.0,602.3 737.5,601.0 C740.0,599.7 742.5,597.2 745.0,595.0 C747.5,592.8 750.0,589.6 752.5,587.5 C755.0,585.4 757.5,583.8 760.0,582.5 C762.5,581.2 765.0,580.2 767.5,579.5 C770.0,578.8 771.7,578.4 775.0,578.0 C778.3,577.6 783.3,577.4 787.5,577.0 C791.7,576.6 795.8,576.2 800.0,575.5 C804.2,574.8 808.3,573.4 812.5,572.5 C816.7,571.6 820.8,570.2 825.0,570.0 C829.2,569.8 833.3,570.7 837.5,571.0 C841.7,571.3 845.8,572.0 850.0,572.0 C854.2,572.0 858.3,571.8 862.5,571.0 C866.7,570.2 872.1,568.1 875.0,567.0 C877.9,565.9 877.0,564.5 880.0,564.5 C883.0,564.5 888.5,565.3 893.0,566.7 C897.5,568.1 902.2,570.8 906.7,573.0 C911.2,575.2 915.6,578.0 920.0,580.0 C924.4,582.0 928.5,583.3 933.0,585.0 C937.5,586.7 942.2,588.7 946.7,590.0 C951.2,591.3 955.6,592.5 960.0,593.0 C964.4,593.5 968.5,592.7 973.0,593.0 C977.5,593.3 982.2,594.3 986.7,594.7 C991.2,595.1 996.0,595.4 1000.0,595.5 C1004.0,595.6 1007.6,596.1 1010.7,595.5 C1013.8,594.9 1015.7,593.2 1018.7,592.0 C1021.8,590.8 1025.5,588.9 1029.0,588.0 C1032.5,587.1 1036.4,586.8 1040.0,586.7 C1043.6,586.6 1048.0,586.8 1050.7,587.5 C1053.4,588.2 1054.3,589.1 1056.0,590.7 C1057.7,592.3 1059.2,594.8 1061.0,597.0 C1062.8,599.2 1064.7,601.5 1066.7,604.0 C1068.7,606.5 1072.0,610.7 1073.0,612.0" fill="none" stroke="#e9a33f" stroke-width="1.2"/>
<path d="M2.5,614.0 C4.2,614.6 9.6,615.7 12.5,617.5 C15.4,619.3 17.9,622.2 20.0,625.0 C22.1,627.8 22.9,631.3 25.0,634.0 C27.1,636.7 30.4,639.6 32.5,641.0 C34.6,642.4 36.1,642.8 37.5,642.5 C38.9,642.2 38.9,639.5 41.0,639.0 C43.1,638.5 47.2,638.9 50.0,639.5 C52.8,640.1 55.0,640.9 57.5,642.5 C60.0,644.1 62.5,646.8 65.0,649.0 C67.5,651.2 70.0,654.2 72.5,656.0 C75.0,657.8 77.8,659.3 80.0,660.0 C82.2,660.7 84.2,660.7 86.0,660.0 C87.8,659.3 88.8,656.9 91.0,656.0 C93.2,655.1 96.7,654.5 99.0,654.5 C101.3,654.5 102.8,655.1 105.0,656.0 C107.2,656.9 110.2,659.2 112.5,660.0 C114.8,660.8 116.5,661.4 119.0,661.0 C121.5,660.6 124.8,659.3 127.5,657.5 C130.2,655.7 132.5,652.2 135.0,650.0 C137.5,647.8 140.0,645.8 142.5,644.0 C145.0,642.2 147.5,641.3 150.0,639.0 C152.5,636.7 155.0,633.2 157.5,630.0 C160.0,626.8 162.9,622.3 165.0,620.0 C167.1,617.7 168.3,616.9 170.0,616.0 C171.7,615.1 173.2,614.8 175.0,614.5 C176.8,614.2 179.2,613.8 181.0,614.5 C182.8,615.2 184.5,617.2 186.0,619.0 C187.5,620.8 188.1,623.7 190.0,625.5 C191.9,627.3 195.0,628.4 197.5,630.0 C200.0,631.6 202.5,632.3 205.0,635.0 C207.5,637.7 210.0,641.8 212.5,646.0 C215.0,650.2 217.5,655.8 220.0,660.0 C222.5,664.2 225.0,667.8 227.5,671.0 C230.0,674.2 232.9,677.2 235.0,679.0 C237.1,680.8 238.5,681.4 240.0,682.0 C241.5,682.6 242.3,683.2 244.0,682.5 C245.7,681.8 248.2,679.6 250.0,677.5 C251.8,675.4 252.9,671.7 255.0,670.0 C257.1,668.3 260.0,669.2 262.5,667.5 C265.0,665.8 267.9,662.8 270.0,660.0 C272.1,657.2 273.2,653.9 275.0,651.0 C276.8,648.1 278.9,644.3 281.0,642.5 C283.1,640.7 285.2,641.9 287.5,640.0 C289.8,638.1 292.9,634.8 295.0,631.0 C297.1,627.2 298.5,621.4 300.0,617.5 C301.5,613.6 302.5,610.2 304.0,607.5 C305.5,604.8 307.2,602.2 309.0,601.0 C310.8,599.8 313.2,600.0 315.0,600.0 C316.8,600.0 318.3,600.2 320.0,601.0 C321.7,601.8 323.2,603.5 325.0,605.0 C326.8,606.5 328.9,607.9 331.0,610.0 C333.1,612.1 335.6,615.4 337.5,617.5 C339.4,619.6 340.4,622.1 342.5,622.5 C344.6,622.9 347.5,620.6 350.0,620.0 C352.5,619.4 355.4,618.7 357.5,619.0 C359.6,619.3 360.8,621.7 362.5,622.0 C364.2,622.3 365.8,620.7 367.5,621.0 C369.2,621.3 371.1,623.5 372.5,624.0 C373.9,624.5 374.8,624.7 376.0,624.0 C377.2,623.3 378.3,621.3 380.0,620.0 C381.7,618.7 383.9,617.2 386.0,616.0 C388.1,614.8 390.6,613.3 392.5,613.0 C394.4,612.7 395.8,613.8 397.5,614.0 C399.2,614.2 400.8,614.7 402.5,614.0 C404.2,613.3 405.4,611.5 407.5,610.0 C409.6,608.5 412.5,606.7 415.0,605.0 C417.5,603.3 420.7,601.2 422.5,600.0 C424.3,598.8 424.6,598.1 426.0,598.0 C427.4,597.9 429.1,599.0 431.0,599.5 C432.9,600.0 435.3,600.1 437.5,601.0 C439.7,601.9 442.1,603.7 444.0,605.0 C445.9,606.3 447.2,608.0 449.0,609.0 C450.8,610.0 452.8,610.8 455.0,611.0 C457.2,611.2 460.4,611.0 462.5,610.0 C464.6,609.0 465.4,606.7 467.5,605.0 C469.6,603.3 472.8,601.7 475.0,600.0 C477.2,598.3 478.9,597.1 481.0,595.0 C483.1,592.9 485.6,589.8 487.5,587.5 C489.4,585.2 490.8,582.7 492.5,581.0 C494.2,579.3 495.6,578.7 497.5,577.5 C499.4,576.3 502.3,574.2 504.0,574.0 C505.7,573.8 506.1,574.8 507.5,576.0 C508.9,577.2 510.6,579.5 512.5,581.0 C514.4,582.5 517.1,584.2 519.0,585.0 C520.9,585.8 522.2,586.2 524.0,586.0 C525.8,585.8 528.0,585.2 530.0,584.0 C532.0,582.8 534.2,580.7 536.0,579.0 C537.8,577.3 539.3,573.8 541.0,574.0 C542.7,574.2 544.5,578.2 546.0,580.0 C547.5,581.8 547.7,582.9 550.0,585.0 C552.3,587.1 556.7,590.8 560.0,592.5 C563.3,594.2 566.7,593.9 570.0,595.0 C573.3,596.1 576.7,598.1 580.0,599.0 C583.3,599.9 587.3,599.9 590.0,600.5 C592.7,601.1 594.3,602.4 596.0,602.5 C597.7,602.6 598.1,600.7 600.0,601.0 C601.9,601.3 605.0,603.8 607.5,604.5 C610.0,605.2 612.5,604.9 615.0,605.5 C617.5,606.1 620.0,607.4 622.5,608.0 C625.0,608.6 627.5,609.4 630.0,609.0 C632.5,608.6 635.2,606.3 637.5,605.5 C639.8,604.7 641.9,604.0 644.0,604.0 C646.1,604.0 647.3,605.0 650.0,605.5 C652.7,606.0 657.1,606.7 660.0,607.0 C662.9,607.3 665.0,607.1 667.5,607.5 C670.0,607.9 672.5,609.1 675.0,609.5 C677.5,609.9 680.0,610.2 682.5,610.0 C685.0,609.8 687.5,608.5 690.0,608.0 C692.5,607.5 695.4,607.9 697.5,607.0 C699.6,606.1 700.8,604.1 702.5,602.5 C704.2,600.9 705.8,598.7 707.5,597.5 C709.2,596.3 710.8,595.5 712.5,595.5 C714.2,595.5 715.8,596.3 717.5,597.5 C719.2,598.7 720.8,601.2 722.5,602.5 C724.2,603.8 726.1,604.9 727.5,605.5 C728.9,606.1 729.8,606.8 731.0,606.0 C732.2,605.2 733.7,603.2 735.0,601.0 C736.3,598.8 737.8,595.3 739.0,592.5 C740.2,589.7 741.3,586.8 742.5,584.0 C743.7,581.2 744.8,577.9 746.0,576.0 C747.2,574.1 748.5,573.5 750.0,572.5 C751.5,571.5 753.3,570.5 755.0,570.0 C756.7,569.5 758.3,569.2 760.0,569.5 C761.7,569.8 763.3,570.9 765.0,572.0 C766.7,573.1 768.3,574.8 770.0,576.0 C771.7,577.2 773.3,578.5 775.0,579.0 C776.7,579.5 777.9,579.5 780.0,579.0 C782.1,578.5 785.0,577.0 787.5,576.0 C790.0,575.0 792.9,573.3 795.0,573.0 C797.1,572.7 798.3,573.7 800.0,574.0 C801.7,574.3 803.3,575.5 805.0,575.0 C806.7,574.5 807.9,572.2 810.0,571.0 C812.1,569.8 815.0,568.5 817.5,568.0 C820.0,567.5 822.5,567.3 825.0,568.0 C827.5,568.7 830.0,571.2 832.5,572.0 C835.0,572.8 837.5,572.5 840.0,572.5 C842.5,572.5 845.0,571.9 847.5,572.0 C850.0,572.1 852.5,573.2 855.0,573.0 C857.5,572.8 860.4,571.8 862.5,570.5 C864.6,569.2 865.8,566.4 867.5,565.0 C869.2,563.6 870.4,562.4 872.5,562.0 C874.6,561.6 877.0,561.7 880.0,562.5 C883.0,563.3 887.2,564.7 890.7,566.7 C894.2,568.7 898.0,572.0 901.0,574.7 C904.0,577.4 906.3,580.6 909.0,582.7 C911.7,584.8 914.3,586.8 917.0,587.5 C919.7,588.2 922.3,586.3 925.0,586.7 C927.7,587.1 930.3,588.7 933.0,590.0 C935.7,591.3 938.3,593.2 941.0,594.7 C943.7,596.2 946.7,598.0 949.0,598.7 C951.3,599.5 952.9,600.2 954.7,599.2 C956.5,598.2 957.8,594.1 960.0,593.0 C962.2,591.9 965.3,592.5 968.0,592.8 C970.7,593.1 973.3,594.2 976.0,594.7 C978.7,595.2 981.3,596.0 984.0,596.0 C986.7,596.0 989.3,594.8 992.0,594.7 C994.7,594.6 997.3,595.3 1000.0,595.5 C1002.7,595.7 1005.8,596.6 1008.0,596.0 C1010.2,595.4 1011.2,593.5 1013.0,592.0 C1014.8,590.5 1016.9,588.1 1018.7,586.7 C1020.5,585.3 1022.3,584.2 1024.0,583.5 C1025.7,582.8 1026.8,582.6 1029.0,582.7 C1031.2,582.8 1034.3,583.5 1037.0,584.0 C1039.7,584.5 1042.7,585.3 1045.0,586.0 C1047.3,586.7 1049.4,586.3 1050.7,588.0 C1052.0,589.7 1052.0,592.5 1053.0,596.0 C1054.0,599.5 1055.7,605.0 1057.0,609.0 C1058.3,613.0 1059.4,616.7 1061.0,620.0 C1062.6,623.3 1064.7,626.2 1066.7,629.0 C1068.7,631.8 1072.0,635.2 1073.0,636.5" fill="none" stroke="#1f1f24" stroke-width="1.2"/>
<line x1="1075" x2="1116" y1="609.3" y2="609.3" stroke="#b9b9bd" stroke-width="1" stroke-dasharray="5,4"/>
</g>
</svg>
<div class="sep"></div>
<div style="position:absolute;left:0;top:0;width:1200px;height:546px;overflow:hidden"><div class="t" id="t0" style="left:1128.5px;top:44.0px;font-size:13px;color:#131722;font-weight:400;letter-spacing:0.543px;">160.000</div>
<div class="t" id="t1" style="left:1128.5px;top:89.4px;font-size:13px;color:#131722;font-weight:400;letter-spacing:0.543px;">158.000</div>
<div class="t" id="t2" style="left:1128.5px;top:134.8px;font-size:13px;color:#131722;font-weight:400;letter-spacing:0.543px;">156.000</div>
<div class="t" id="t3" style="left:1128.5px;top:180.2px;font-size:13px;color:#131722;font-weight:400;letter-spacing:0.543px;">154.000</div>
<div class="t" id="t4" style="left:1128.5px;top:225.6px;font-size:13px;color:#131722;font-weight:400;letter-spacing:0.543px;">152.000</div>
<div class="t" id="t5" style="left:1128.5px;top:271.0px;font-size:13px;color:#131722;font-weight:400;letter-spacing:0.543px;">150.000</div>
<div class="t" id="t6" style="left:1128.5px;top:316.4px;font-size:13px;color:#131722;font-weight:400;letter-spacing:0.543px;">148.000</div>
<div class="t" id="t7" style="left:1128.5px;top:361.8px;font-size:13px;color:#131722;font-weight:400;letter-spacing:0.543px;">146.000</div>
<div class="t" id="t8" style="left:1128.5px;top:407.2px;font-size:13px;color:#131722;font-weight:400;letter-spacing:0.543px;">144.000</div>
<div class="t" id="t9" style="left:1128.5px;top:452.59999999999997px;font-size:13px;color:#131722;font-weight:400;letter-spacing:0.543px;">142.000</div>
<div class="t" id="t10" style="left:1128.5px;top:498.0px;font-size:13px;color:#131722;font-weight:400;letter-spacing:0.543px;">140.000</div>
<div class="t" id="t11" style="left:1128.5px;top:543.4px;font-size:13px;color:#131722;font-weight:400;letter-spacing:0.543px;">138.000</div></div><div class="t" id="t12" style="left:1128.5px;top:575px;font-size:13px;color:#131722;font-weight:400;letter-spacing:0.391px;">1.000</div>
<div class="t" id="t13" style="left:1128.5px;top:609.3px;font-size:13px;color:#131722;font-weight:400;letter-spacing:0.391px;">0.000</div>
<div class="t" id="t14" style="left:1128.5px;top:643.6px;font-size:13px;color:#131722;font-weight:400;letter-spacing:0.312px;">−1.000</div>
<div class="t" id="t15" style="left:1128.5px;top:678px;font-size:13px;color:#131722;font-weight:400;letter-spacing:0.312px;">−2.000</div>
<div class="t c" id="t16" style="left:13px;top:711.7px;font-size:13.4px;color:#131722;font-weight:400;">2月</div>
<div class="t c" id="t17" style="left:95px;top:711.7px;font-size:13.4px;color:#131722;font-weight:400;">3月</div>
<div class="t c" id="t18" style="left:181px;top:711.7px;font-size:13.4px;color:#131722;font-weight:400;">4月</div>
<div class="t c" id="t19" style="left:272px;top:711.7px;font-size:13.4px;color:#131722;font-weight:400;">5月</div>
<div class="t c" id="t20" style="left:364px;top:711.7px;font-size:13.4px;color:#131722;font-weight:400;">6月</div>
<div class="t c" id="t21" style="left:450px;top:711.7px;font-size:13.4px;color:#131722;font-weight:400;">7月</div>
<div class="t c" id="t22" style="left:545px;top:711.7px;font-size:13.4px;color:#131722;font-weight:400;">8月</div>
<div class="t c" id="t23" style="left:631px;top:711.7px;font-size:13.4px;color:#131722;font-weight:400;">9月</div>
<div class="t c" id="t24" style="left:722px;top:711.7px;font-size:13.4px;color:#131722;font-weight:400;">10月</div>
<div class="t c" id="t25" style="left:817.5px;top:711.7px;font-size:13.4px;color:#131722;font-weight:400;">11月</div>
<div class="t c" id="t26" style="left:901.5px;top:711.7px;font-size:13.4px;color:#131722;font-weight:400;">12月</div>
<div class="t c" id="t27" style="left:990px;top:711.7px;font-size:13.2px;color:#131722;font-weight:700;letter-spacing:0.914px;">2026</div>
<div class="t" id="t29" style="left:285.3px;top:19.8px;font-size:13.5px;color:#131722;font-weight:400;background:rgba(255,255,255,0.72);padding:2px 2px 2px 0;box-shadow:-3px 0 0 rgba(255,255,255,0.72);letter-spacing:-1.250px;">始値</div>
<div class="t" id="t30" style="left:312.5px;top:19.8px;font-size:13px;color:#4a6cd4;font-weight:400;background:rgba(255,255,255,0.72);padding:2px 2px 2px 0;box-shadow:-3px 0 0 rgba(255,255,255,0.72);letter-spacing:1.143px;">153.400</div>
<div class="t" id="t31" style="left:376px;top:19.8px;font-size:13.5px;color:#131722;font-weight:400;background:rgba(255,255,255,0.72);padding:2px 2px 2px 0;box-shadow:-3px 0 0 rgba(255,255,255,0.72);letter-spacing:-0.200px;">高値</div>
<div class="t" id="t32" style="left:405.6px;top:19.8px;font-size:13px;color:#4a6cd4;font-weight:400;background:rgba(255,255,255,0.72);padding:2px 2px 2px 0;box-shadow:-3px 0 0 rgba(255,255,255,0.72);letter-spacing:0.929px;">153.537</div>
<div class="t" id="t33" style="left:467px;top:19.8px;font-size:13.5px;color:#131722;font-weight:400;background:rgba(255,255,255,0.72);padding:2px 2px 2px 0;box-shadow:-3px 0 0 rgba(255,255,255,0.72);letter-spacing:0.250px;">安値</div>
<div class="t" id="t34" style="left:496.6px;top:19.8px;font-size:13px;color:#4a6cd4;font-weight:400;background:rgba(255,255,255,0.72);padding:2px 2px 2px 0;box-shadow:-3px 0 0 rgba(255,255,255,0.72);letter-spacing:1.143px;">152.679</div>
<div class="t" id="t35" style="left:560px;top:19.8px;font-size:13.5px;color:#131722;font-weight:400;background:rgba(255,255,255,0.72);padding:2px 2px 2px 0;box-shadow:-3px 0 0 rgba(255,255,255,0.72);letter-spacing:-0.100px;">終値</div>
<div class="t" id="t36" style="left:589.8px;top:19.8px;font-size:13px;color:#4a6cd4;font-weight:400;background:rgba(255,255,255,0.72);padding:2px 2px 2px 0;box-shadow:-3px 0 0 rgba(255,255,255,0.72);letter-spacing:1.029px;">153.078</div>
<div class="t" id="t37" style="left:651.7px;top:19.8px;font-size:13px;color:#4a6cd4;font-weight:400;background:rgba(255,255,255,0.72);padding:2px 2px 2px 0;box-shadow:-3px 0 0 rgba(255,255,255,0.72);letter-spacing:0.963px;">−0.322 (−0.21%)</div>
<div class="t" id="t38" style="left:98.5px;top:57.5px;font-size:10.8px;color:#131722;font-weight:400;letter-spacing:0.121px;">10.1</div>
<div class="t" id="t39" style="left:12px;top:94px;font-size:13.5px;color:#b3b3b6;font-weight:400;background:rgba(255,255,255,0.72);padding:2px 2px 2px 0;box-shadow:-3px 0 0 rgba(255,255,255,0.72);letter-spacing:0.167px;">出来高</div>
<div class="t" id="t40" style="left:12.3px;top:119.2px;font-size:13px;color:#131722;font-weight:400;background:rgba(255,255,255,0.72);padding:2px 2px 2px 0;box-shadow:-3px 0 0 rgba(255,255,255,0.72);letter-spacing:0.907px;">Ichimoku + SMA 25/75/200 (1 slot)</div>
<div class="t" id="t41" style="left:247.5px;top:119.2px;font-size:13px;color:#6a6d78;font-weight:400;background:rgba(255,255,255,0.72);padding:2px 2px 2px 0;box-shadow:-3px 0 0 rgba(255,255,255,0.72);letter-spacing:1.155px;">25 75 200 9 26 52 26</div>
<div class="t" id="t42" style="left:403.5px;top:119.2px;font-size:13px;color:#4a6cd4;font-weight:400;background:rgba(255,255,255,0.72);padding:2px 2px 2px 0;box-shadow:-3px 0 0 rgba(255,255,255,0.72);letter-spacing:1.000px;">156.663</div>
<div class="t" id="t43" style="left:466px;top:119.2px;font-size:13px;color:#f3e36a;font-weight:400;background:rgba(255,255,255,0.72);padding:2px 2px 2px 0;box-shadow:-3px 0 0 rgba(255,255,255,0.72);letter-spacing:1.071px;">155.297</div>
<div class="t" id="t44" style="left:530px;top:119.2px;font-size:13px;color:#e0605f;font-weight:400;background:rgba(255,255,255,0.72);padding:2px 2px 2px 0;box-shadow:-3px 0 0 rgba(255,255,255,0.72);letter-spacing:0.996px;">149.811</div>
<div class="t" id="t45" style="left:593px;top:119.2px;font-size:13px;color:#eaa352;font-weight:400;background:rgba(255,255,255,0.72);padding:2px 2px 2px 0;box-shadow:-3px 0 0 rgba(255,255,255,0.72);letter-spacing:1.057px;">155.659</div>
<div class="t" id="t46" style="left:656px;top:119.2px;font-size:13px;color:#4d927a;font-weight:400;background:rgba(255,255,255,0.72);padding:2px 2px 2px 0;box-shadow:-3px 0 0 rgba(255,255,255,0.72);letter-spacing:1.000px;">155.773</div>
<div class="t" id="t47" style="left:720px;top:119.2px;font-size:13px;color:#cfe0f5;font-weight:400;background:rgba(255,255,255,0.72);padding:2px 2px 2px 0;box-shadow:-3px 0 0 rgba(255,255,255,0.72);letter-spacing:0.857px;">156.098</div>
<div class="t" id="t48" style="left:779px;top:119.2px;font-size:13px;color:#e3e3e6;font-weight:400;background:rgba(255,255,255,0.72);padding:2px 2px 2px 0;box-shadow:-3px 0 0 rgba(255,255,255,0.72);letter-spacing:1.286px;">153.632</div>
<div class="t" id="t49" style="left:846px;top:119.2px;font-size:13px;color:#6b6e78;font-weight:400;background:rgba(255,255,255,0.72);padding:2px 2px 2px 0;box-shadow:-3px 0 0 rgba(255,255,255,0.72);letter-spacing:0.929px;">153.080</div>
<div class="t" id="t50" style="left:11.7px;top:564px;font-size:13px;color:#131722;font-weight:400;background:rgba(255,255,255,0.72);padding:2px 2px 2px 0;box-shadow:-3px 0 0 rgba(255,255,255,0.72);letter-spacing:0.430px;">MACD</div>
<div class="t" id="t51" style="left:57.3px;top:564px;font-size:13px;color:#6a6d78;font-weight:400;background:rgba(255,255,255,0.72);padding:2px 2px 2px 0;box-shadow:-3px 0 0 rgba(255,255,255,0.72);letter-spacing:0.864px;">12 26 close</div>
<div class="t" id="t52" style="left:171.7px;top:564px;font-size:13px;color:#5a7fd6;font-weight:400;background:rgba(255,255,255,0.72);padding:2px 2px 2px 0;box-shadow:-3px 0 0 rgba(255,255,255,0.72);letter-spacing:1.079px;">−0.688</div>
<div class="t" id="t53" style="left:226.7px;top:564px;font-size:13px;color:#131722;font-weight:400;background:rgba(255,255,255,0.72);padding:2px 2px 2px 0;box-shadow:-3px 0 0 rgba(255,255,255,0.72);letter-spacing:0.812px;">−0.672</div>
<div class="t" id="t54" style="left:280px;top:564px;font-size:13px;color:#e9a958;font-weight:400;background:rgba(255,255,255,0.72);padding:2px 2px 2px 0;box-shadow:-3px 0 0 rgba(255,255,255,0.72);letter-spacing:1.151px;">0.016</div>
<div class="symbox"></div>

<!-- flags -->
<svg style="position:absolute;left:10px;top:9px" width="24" height="24" viewBox="0 0 24 24">
 <circle cx="14.9" cy="7.3" r="5.3" fill="#f3f3f6"/>
 <circle cx="15.6" cy="7.6" r="2.5" fill="#d9545c"/>
 <circle cx="8.1" cy="14.6" r="6.9" fill="#fff"/>
 <clipPath id="usc"><circle cx="8.1" cy="14.6" r="6.3"/></clipPath>
 <g clip-path="url(#usc)">
  <rect x="0" y="8" width="16" height="14" fill="#f4f4f6"/>
  <rect x="0" y="8.3" width="16" height="1.7" fill="#d9545c"/>
  <rect x="0" y="11.7" width="16" height="1.7" fill="#d9545c"/>
  <rect x="0" y="15.1" width="16" height="1.8" fill="#d9545c"/>
  <rect x="0" y="18.5" width="16" height="2.6" fill="#d9545c"/>
  <rect x="0" y="8" width="8.3" height="7.2" fill="#3b6fd8"/>
 </g>
</svg>
<!-- grey flag -->
<svg style="position:absolute;left:234px;top:14px" width="16" height="13" viewBox="0 0 16 13"><path d="M1,0.5 H14 L10.2,6.3 L14,12.2 H1 Z" fill="#d2d3d6"/></svg>
<!-- three dots -->
<svg style="position:absolute;left:261px;top:15px" width="22" height="10" viewBox="0 0 22 10"><g fill="none" stroke="#2a2e39" stroke-width="1.15"><circle cx="4.1" cy="5.4" r="1.85"/><circle cx="10.6" cy="5.4" r="1.85"/><circle cx="17.1" cy="5.4" r="1.85"/></g></svg>
<!-- eye off -->
<svg style="position:absolute;left:63.5px;top:85px" width="20" height="18" viewBox="0 0 20 18"><g fill="none" stroke="#2a2e39" stroke-width="1.1" stroke-linecap="round"><path d="M2,8.6 C4.4,5.2 7.2,4 10,4 C12.8,4 15.6,5.2 18,8.6 C15.6,12 12.8,13.2 10,13.2 C7.2,13.2 4.4,12 2,8.6 Z"/><circle cx="10" cy="8.6" r="2.6"/><path d="M14.8,2.6 L5.2,14.6"/></g></svg>
<!-- macd purple icon -->
<svg style="position:absolute;left:142px;top:554.5px" width="20" height="20" viewBox="0 0 20 20"><circle cx="10" cy="10" r="9.3" fill="#ece3fb"/><g fill="none" stroke="#8a3ffc" stroke-width="1.7" stroke-linecap="round" stroke-linejoin="round"><path d="M5.2,8.6 A5,5 0 0 1 14.2,7.2"/><path d="M14.6,4.6 V7.6 H11.6"/><path d="M14.8,11.4 A5,5 0 0 1 5.8,12.8"/><path d="M5.4,15.4 V12.4 H8.4"/></g></svg>
<!-- TradingView logo -->
<svg style="position:absolute;left:14.3px;top:662.5px" width="34" height="20" viewBox="0 0 34 20"><g fill="#0f1116"><path d="M0.8,2.2 H13.6 V17.8 H7.2 V8.3 H0.8 Z"/><circle cx="18.9" cy="5.4" r="2.9"/><path d="M26.2,2.2 H33.2 L26.6,17.8 H19.6 Z"/></g></svg>

<div class="btn sell"><div class="p">153.08<sup>0</sup></div><div class="l">売り</div></div>
<div class="btn buy"><div class="p">153.18<sup>1</sup></div><div class="l">買い</div></div>
<div class="collapse"><svg width="28" height="20" viewBox="0 0 28 20" style="position:absolute;left:0;top:0"><path d="M10.3,12.4 L14,8.8 L17.7,12.4" fill="none" stroke="#131722" stroke-width="1.5" stroke-linecap="round" stroke-linejoin="round"/></svg></div>
<div class="pbtn" style="left:997px"><svg width="23" height="23" viewBox="0 0 24 24" style="position:absolute;left:-0.2px;top:0.4px"><g fill="none" stroke="#1e222d" stroke-width="1.25" stroke-linecap="round" stroke-linejoin="round"><path d="M12,17.5 V7 M7.6,11.2 L12,6.8 L16.4,11.2" /></g></svg></div><div class="pbtn" style="left:1027px"><svg width="23" height="23" viewBox="0 0 24 24" style="position:absolute;left:-0.2px;top:0.4px"><g fill="none" stroke="#1e222d" stroke-width="1.25" stroke-linecap="round" stroke-linejoin="round"><path d="M6.4,8 H17.6 M9.8,7.8 V6.2 Q9.8,5.4 10.6,5.4 H13.4 Q14.2,5.4 14.2,6.2 V7.8 M7.6,8.2 L8.4,17.4 Q8.5,18.6 9.7,18.6 H14.3 Q15.5,18.6 15.6,17.4 L16.4,8.2" /></g></svg></div><div class="pbtn" style="left:1057px"><svg width="23" height="23" viewBox="0 0 24 24" style="position:absolute;left:-0.2px;top:0.4px"><g fill="none" stroke="#1e222d" stroke-width="1.25" stroke-linecap="round" stroke-linejoin="round"><path d="M8.6,5.6 L12,9 L15.4,5.6 M8.6,17.6 L12,14.2 L15.4,17.6" /></g></svg></div><div class="pbtn" style="left:1087.5px"><svg width="23" height="23" viewBox="0 0 24 24" style="position:absolute;left:-0.2px;top:0.4px"><g fill="none" stroke="#1e222d" stroke-width="1.25" stroke-linecap="round" stroke-linejoin="round"><path d="M6.6,10 V8.6 Q6.6,6.8 8.4,6.8 H15.6 Q17.4,6.8 17.4,8.6 V10 M6.6,14 V15.4 Q6.6,17.2 8.4,17.2 H15.6 Q17.4,17.2 17.4,15.4 V14" /></g></svg></div>
<div class="pl" style="left:1118.3px;top:49.8px;width:66.5px;height:18.0px;background:#2f62e8;color:#fff;border-radius:3px;line-height:18.0px;font-size:13px;padding-left:10.2px;"><span id="b0_0" style="letter-spacing:0.429px;">156.547</span></div>
<div class="pl" style="left:1118.3px;top:68.4px;width:66.5px;height:17.599999999999994px;background:#dcdcde;color:#131722;border-radius:3px;line-height:17.599999999999994px;font-size:13px;padding-left:10.2px;"><span id="b1_0" style="letter-spacing:0.429px;">155.773</span></div>
<div class="pl" style="left:1118.3px;top:86.4px;width:66.5px;height:18.19999999999999px;background:#3f8c73;color:#fff;border-radius:3px;line-height:18.19999999999999px;font-size:13px;padding-left:10.2px;"><span id="b2_0" style="letter-spacing:0.429px;">155.773</span></div>
<div class="pl" style="left:1118.3px;top:104.8px;width:66.5px;height:18.400000000000006px;background:#c7dbf7;color:#131722;border-radius:3px;line-height:18.400000000000006px;font-size:13px;padding-left:10.2px;"><span id="b3_0" style="letter-spacing:0.429px;">155.716</span></div>
<div class="pl" style="left:1118.3px;top:123.4px;width:66.5px;height:17.799999999999983px;background:#f0993a;color:#131722;border-radius:3px;line-height:17.799999999999983px;font-size:13px;padding-left:10.2px;"><span id="b4_0" style="letter-spacing:0.429px;">155.659</span></div>
<div class="pl" style="left:1118.3px;top:141.4px;width:66.5px;height:17.799999999999983px;background:#f8e85a;color:#131722;border-radius:3px;line-height:17.799999999999983px;font-size:13px;padding-left:10.2px;"><span id="b5_0" style="letter-spacing:0.429px;">155.324</span></div>
<div class="pl" style="left:1118.3px;top:174px;width:66.5px;height:17.5px;background:#6d717c;color:#fff;border-radius:3px;line-height:17.5px;font-size:13px;padding-left:10.2px;"><span id="b6_0" style="letter-spacing:0.429px;">153.080</span></div>
<div class="pl" style="left:1118.3px;top:192px;width:71px;height:32.80000000000001px;background:#e5564f;color:#fff;border-radius:3px;line-height:15.6px;font-size:13px;padding-left:10.2px;"><span id="b7_0" style="letter-spacing:0.429px;">153.080</span><br><span id="b7_1" style="letter-spacing:-0.201px;">23:48:47</span></div>
<div class="pl" style="left:1118.3px;top:265px;width:66.5px;height:18.5px;background:#e5564f;color:#fff;border-radius:3px;line-height:18.5px;font-size:13px;padding-left:10.2px;"><span id="b8_0" style="letter-spacing:0.429px;">149.860</span></div>
<div class="pl" style="left:1118.3px;top:604.4px;width:59px;height:18.600000000000023px;background:#f29b38;color:#131722;border-radius:3px 3px 0 0;line-height:18.600000000000023px;font-size:13px;padding-left:8.6px;"><span id="b9_0" style="letter-spacing:0.413px;">−0.149</span></div>
<div class="pl" style="left:1118.3px;top:623px;width:59px;height:18.5px;background:#bcd5f7;color:#131722;border-radius:0;line-height:18.5px;font-size:13px;padding-left:8.6px;"><span id="b10_0" style="letter-spacing:0.413px;">−0.662</span></div>
<div class="pl" style="left:1118.3px;top:641.5px;width:59px;height:18.0px;background:#2e2f33;color:#fff;border-radius:3px 3px 0 0;line-height:18.0px;font-size:13px;padding-left:8.6px;"><span id="b11_0" style="letter-spacing:0.571px;">−0.811</span></div>
<div class="pl" style="left:1118.3px;top:655.7px;width:59px;height:21.5px;background:#131722;color:#fff;border-radius:0 3px 3px 3px;line-height:21.5px;font-size:13px;padding-left:8.6px;"><span id="b12_0" style="letter-spacing:0.413px;">−1.674</span></div>
<div class="t" id="t28" style="left:37px;top:19.8px;font-size:16.5px;color:#131722;font-weight:400;background:rgba(255,255,255,0.72);padding:2px 2px 2px 0;box-shadow:-3px 0 0 rgba(255,255,255,0.72);letter-spacing:-0.015px;">米ドル／円 · 1日 · FXCM</div>
<div style="position:absolute;left:1191.3px;top:193px;width:2.2px;height:31px;background:#e5564f;border-radius:1px"></div>
<div class="plus"><svg width="22" height="22" viewBox="0 0 22 22"><g fill="none" stroke="#fff" stroke-width="1.1" stroke-linecap="round"><circle cx="11.2" cy="11" r="6.3"/><path d="M11.2,7.6 V14.4 M7.8,11 H14.6"/></g></svg></div>
<div class="datelab" id="datelab"><span id="dl" style="letter-spacing:0.478px">2026-01-29 (木)</span></div>
<svg style="position:absolute;left:1146px;top:702px" width="20" height="20" viewBox="0 0 20 20"><g fill="none" stroke="#131722" stroke-width="1.25" stroke-linejoin="round"><path d="M6,3.3 H14 L17.9,10 L14,16.7 H6 L2.1,10 Z"/><circle cx="10" cy="10" r="2.1"/></g></svg>
<div class="t" id="tvtext" style="left:55.8px;top:672.8px;font-size:21.8px;font-weight:700;color:#0f1116;letter-spacing:0.136px">TradingView</div>

</body></html>
